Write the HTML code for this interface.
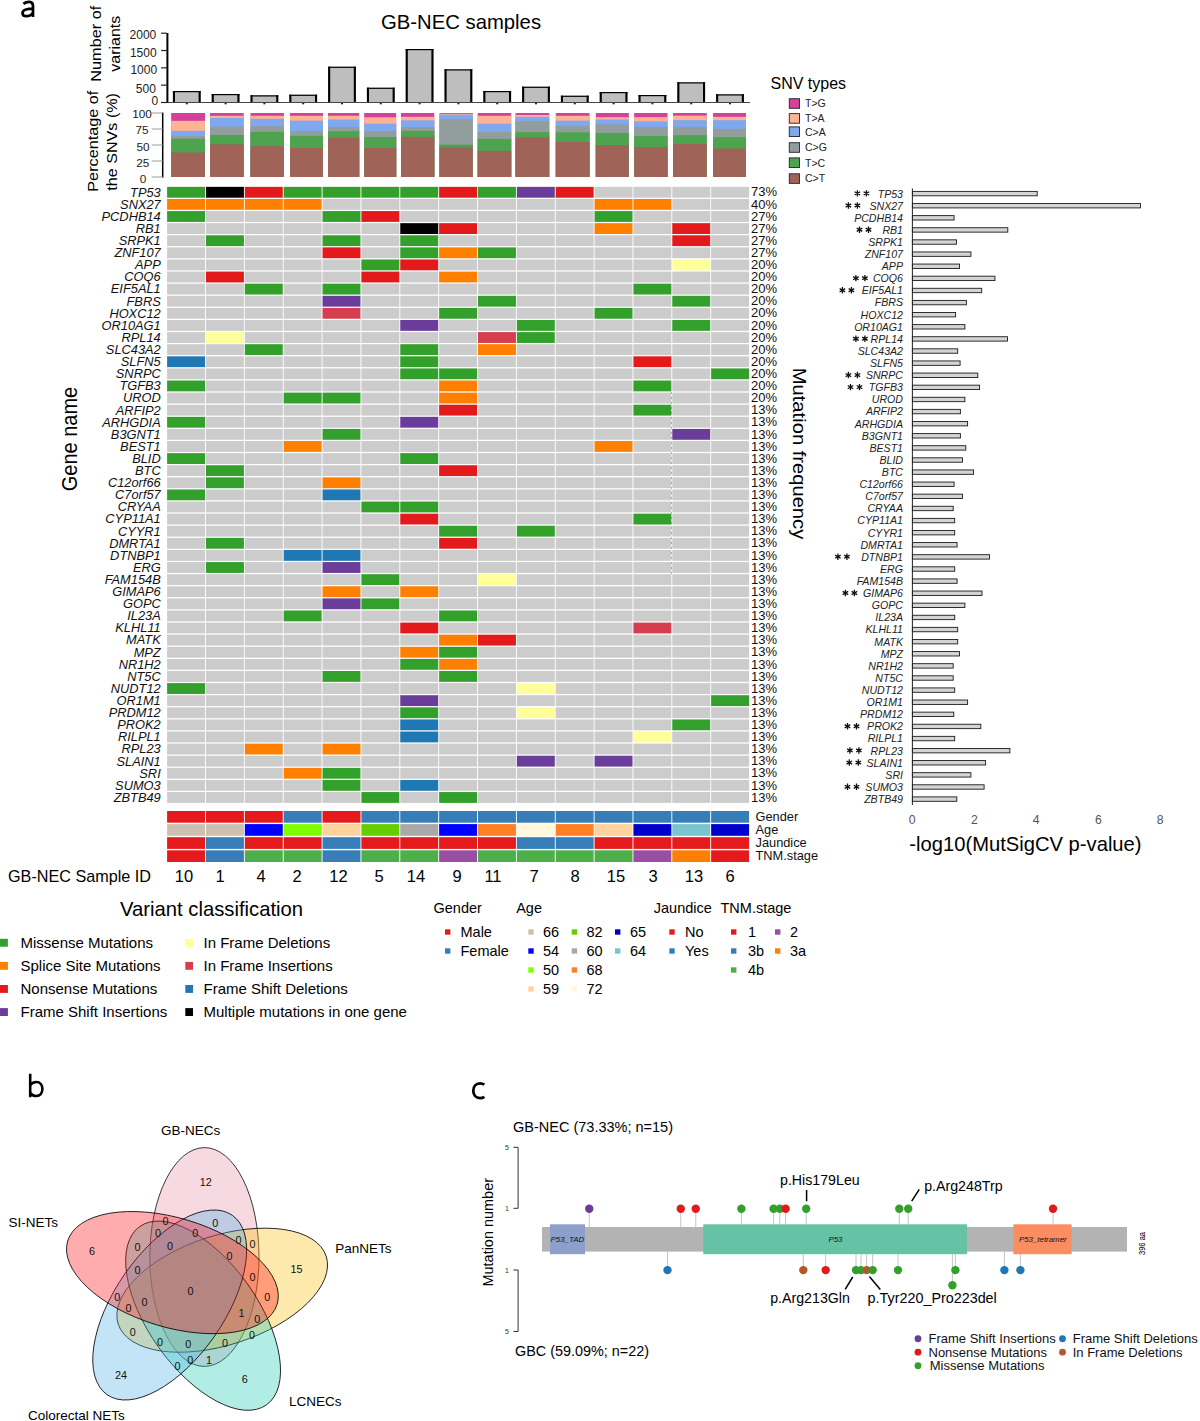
<!DOCTYPE html>
<html><head><meta charset="utf-8"><title>Figure</title>
<style>html,body{margin:0;padding:0;background:#fff;}svg{display:block;}text{font-family:"Liberation Sans", sans-serif;}</style>
</head><body>
<svg width="1200" height="1421" viewBox="0 0 1200 1421" font-family='"Liberation Sans", sans-serif'>
<rect width="1200" height="1421" fill="#fff"/>
<path d="M23.4 3.9C25.2 2.4 27.4 1.8 29.6 1.9C32.1 2.1 33.0 3.6 33.0 6.2L33.0 16.9M33.0 8.7C28.6 8.7 22.5 9.2 22.5 13.0C22.5 15.2 24.1 16.2 26.3 16.2C29.4 16.2 31.8 14.6 33.0 12.6" fill="none" stroke="#000" stroke-width="2.7"/>
<text x="381.00" y="29.00" font-size="20.3" fill="#000">GB-NEC samples</text>
<rect x="172.90" y="91.00" width="27.80" height="11.00" fill="#bebebe"/>
<rect x="172.90" y="91.00" width="2.10" height="11.00" fill="#000"/>
<rect x="198.60" y="91.00" width="2.10" height="11.00" fill="#000"/>
<rect x="172.90" y="91.00" width="27.80" height="1.20" fill="#000"/>
<rect x="185.80" y="102.50" width="2.00" height="1.80" fill="#222"/>
<rect x="211.70" y="94.00" width="27.80" height="8.00" fill="#bebebe"/>
<rect x="211.70" y="94.00" width="2.10" height="8.00" fill="#000"/>
<rect x="237.40" y="94.00" width="2.10" height="8.00" fill="#000"/>
<rect x="211.70" y="94.00" width="27.80" height="1.20" fill="#000"/>
<rect x="224.60" y="102.50" width="2.00" height="1.80" fill="#222"/>
<rect x="250.50" y="95.30" width="27.80" height="6.70" fill="#bebebe"/>
<rect x="250.50" y="95.30" width="2.10" height="6.70" fill="#000"/>
<rect x="276.20" y="95.30" width="2.10" height="6.70" fill="#000"/>
<rect x="250.50" y="95.30" width="27.80" height="1.20" fill="#000"/>
<rect x="263.40" y="102.50" width="2.00" height="1.80" fill="#222"/>
<rect x="289.30" y="94.70" width="27.80" height="7.30" fill="#bebebe"/>
<rect x="289.30" y="94.70" width="2.10" height="7.30" fill="#000"/>
<rect x="315.00" y="94.70" width="2.10" height="7.30" fill="#000"/>
<rect x="289.30" y="94.70" width="27.80" height="1.20" fill="#000"/>
<rect x="302.20" y="102.50" width="2.00" height="1.80" fill="#222"/>
<rect x="328.10" y="66.70" width="27.80" height="35.30" fill="#bebebe"/>
<rect x="328.10" y="66.70" width="2.10" height="35.30" fill="#000"/>
<rect x="353.80" y="66.70" width="2.10" height="35.30" fill="#000"/>
<rect x="328.10" y="66.70" width="27.80" height="1.20" fill="#000"/>
<rect x="341.00" y="102.50" width="2.00" height="1.80" fill="#222"/>
<rect x="366.90" y="87.70" width="27.80" height="14.30" fill="#bebebe"/>
<rect x="366.90" y="87.70" width="2.10" height="14.30" fill="#000"/>
<rect x="392.60" y="87.70" width="2.10" height="14.30" fill="#000"/>
<rect x="366.90" y="87.70" width="27.80" height="1.20" fill="#000"/>
<rect x="379.80" y="102.50" width="2.00" height="1.80" fill="#222"/>
<rect x="405.70" y="49.00" width="27.80" height="53.00" fill="#bebebe"/>
<rect x="405.70" y="49.00" width="2.10" height="53.00" fill="#000"/>
<rect x="431.40" y="49.00" width="2.10" height="53.00" fill="#000"/>
<rect x="405.70" y="49.00" width="27.80" height="1.20" fill="#000"/>
<rect x="418.60" y="102.50" width="2.00" height="1.80" fill="#222"/>
<rect x="444.50" y="69.30" width="27.80" height="32.70" fill="#bebebe"/>
<rect x="444.50" y="69.30" width="2.10" height="32.70" fill="#000"/>
<rect x="470.20" y="69.30" width="2.10" height="32.70" fill="#000"/>
<rect x="444.50" y="69.30" width="27.80" height="1.20" fill="#000"/>
<rect x="457.40" y="102.50" width="2.00" height="1.80" fill="#222"/>
<rect x="483.30" y="91.00" width="27.80" height="11.00" fill="#bebebe"/>
<rect x="483.30" y="91.00" width="2.10" height="11.00" fill="#000"/>
<rect x="509.00" y="91.00" width="2.10" height="11.00" fill="#000"/>
<rect x="483.30" y="91.00" width="27.80" height="1.20" fill="#000"/>
<rect x="496.20" y="102.50" width="2.00" height="1.80" fill="#222"/>
<rect x="522.10" y="86.70" width="27.80" height="15.30" fill="#bebebe"/>
<rect x="522.10" y="86.70" width="2.10" height="15.30" fill="#000"/>
<rect x="547.80" y="86.70" width="2.10" height="15.30" fill="#000"/>
<rect x="522.10" y="86.70" width="27.80" height="1.20" fill="#000"/>
<rect x="535.00" y="102.50" width="2.00" height="1.80" fill="#222"/>
<rect x="560.90" y="95.70" width="27.80" height="6.30" fill="#bebebe"/>
<rect x="560.90" y="95.70" width="2.10" height="6.30" fill="#000"/>
<rect x="586.60" y="95.70" width="2.10" height="6.30" fill="#000"/>
<rect x="560.90" y="95.70" width="27.80" height="1.20" fill="#000"/>
<rect x="573.80" y="102.50" width="2.00" height="1.80" fill="#222"/>
<rect x="599.70" y="92.00" width="27.80" height="10.00" fill="#bebebe"/>
<rect x="599.70" y="92.00" width="2.10" height="10.00" fill="#000"/>
<rect x="625.40" y="92.00" width="2.10" height="10.00" fill="#000"/>
<rect x="599.70" y="92.00" width="27.80" height="1.20" fill="#000"/>
<rect x="612.60" y="102.50" width="2.00" height="1.80" fill="#222"/>
<rect x="638.50" y="95.00" width="27.80" height="7.00" fill="#bebebe"/>
<rect x="638.50" y="95.00" width="2.10" height="7.00" fill="#000"/>
<rect x="664.20" y="95.00" width="2.10" height="7.00" fill="#000"/>
<rect x="638.50" y="95.00" width="27.80" height="1.20" fill="#000"/>
<rect x="651.40" y="102.50" width="2.00" height="1.80" fill="#222"/>
<rect x="677.30" y="82.30" width="27.80" height="19.70" fill="#bebebe"/>
<rect x="677.30" y="82.30" width="2.10" height="19.70" fill="#000"/>
<rect x="703.00" y="82.30" width="2.10" height="19.70" fill="#000"/>
<rect x="677.30" y="82.30" width="27.80" height="1.20" fill="#000"/>
<rect x="690.20" y="102.50" width="2.00" height="1.80" fill="#222"/>
<rect x="716.10" y="94.30" width="27.80" height="7.70" fill="#bebebe"/>
<rect x="716.10" y="94.30" width="2.10" height="7.70" fill="#000"/>
<rect x="741.80" y="94.30" width="2.10" height="7.70" fill="#000"/>
<rect x="716.10" y="94.30" width="27.80" height="1.20" fill="#000"/>
<rect x="729.00" y="102.50" width="2.00" height="1.80" fill="#222"/>
<line x1="161" y1="102.5" x2="750" y2="102.5" stroke="#444" stroke-width="1"/>
<line x1="167.4" y1="33" x2="167.4" y2="102.5" stroke="#000" stroke-width="2"/>
<line x1="161.1" y1="102.50" x2="166.7" y2="102.50" stroke="#222" stroke-width="1.2"/>
<text x="154.80" y="105.20" font-size="12" text-anchor="middle" fill="#222">0</text>
<line x1="161.1" y1="85.17" x2="166.7" y2="85.17" stroke="#222" stroke-width="1.2"/>
<text x="145.80" y="92.90" font-size="12" text-anchor="middle" fill="#222">500</text>
<line x1="161.1" y1="67.85" x2="166.7" y2="67.85" stroke="#222" stroke-width="1.2"/>
<text x="143.75" y="74.20" font-size="12" text-anchor="middle" fill="#222">1000</text>
<line x1="161.1" y1="50.52" x2="166.7" y2="50.52" stroke="#222" stroke-width="1.2"/>
<text x="143.30" y="56.90" font-size="12" text-anchor="middle" fill="#222">1500</text>
<line x1="161.1" y1="33.20" x2="166.7" y2="33.20" stroke="#222" stroke-width="1.2"/>
<text x="142.90" y="38.60" font-size="12" text-anchor="middle" fill="#222">2000</text>
<rect x="171.20" y="113.00" width="33.80" height="64.00" fill="#d6409a"/>
<rect x="171.20" y="120.83" width="33.80" height="56.17" fill="#feb394"/>
<rect x="171.20" y="130.83" width="33.80" height="46.17" fill="#80a8ef"/>
<rect x="171.20" y="136.17" width="33.80" height="40.83" fill="#929e9c"/>
<rect x="171.20" y="138.67" width="33.80" height="38.33" fill="#4ea34e"/>
<rect x="171.20" y="152.50" width="33.80" height="24.50" fill="#a06358"/>
<rect x="210.00" y="113.00" width="33.70" height="64.00" fill="#d6409a"/>
<rect x="210.00" y="115.83" width="33.70" height="61.17" fill="#feb394"/>
<rect x="210.00" y="117.83" width="33.70" height="59.17" fill="#80a8ef"/>
<rect x="210.00" y="126.67" width="33.70" height="50.33" fill="#929e9c"/>
<rect x="210.00" y="135.00" width="33.70" height="42.00" fill="#4ea34e"/>
<rect x="210.00" y="144.33" width="33.70" height="32.67" fill="#a06358"/>
<rect x="250.50" y="113.00" width="33.50" height="64.00" fill="#d6409a"/>
<rect x="250.50" y="115.83" width="33.50" height="61.17" fill="#feb394"/>
<rect x="250.50" y="118.83" width="33.50" height="58.17" fill="#80a8ef"/>
<rect x="250.50" y="126.17" width="33.50" height="50.83" fill="#929e9c"/>
<rect x="250.50" y="131.83" width="33.50" height="45.17" fill="#4ea34e"/>
<rect x="250.50" y="146.17" width="33.50" height="30.83" fill="#a06358"/>
<rect x="290.00" y="113.00" width="33.00" height="64.00" fill="#d6409a"/>
<rect x="290.00" y="115.83" width="33.00" height="61.17" fill="#feb394"/>
<rect x="290.00" y="120.67" width="33.00" height="56.33" fill="#80a8ef"/>
<rect x="290.00" y="131.17" width="33.00" height="45.83" fill="#929e9c"/>
<rect x="290.00" y="135.83" width="33.00" height="41.17" fill="#4ea34e"/>
<rect x="290.00" y="148.00" width="33.00" height="29.00" fill="#a06358"/>
<rect x="328.00" y="113.00" width="31.20" height="64.00" fill="#d6409a"/>
<rect x="328.00" y="115.83" width="31.20" height="61.17" fill="#feb394"/>
<rect x="328.00" y="119.50" width="31.20" height="57.50" fill="#80a8ef"/>
<rect x="328.00" y="127.00" width="31.20" height="50.00" fill="#929e9c"/>
<rect x="328.00" y="131.17" width="31.20" height="45.83" fill="#4ea34e"/>
<rect x="328.00" y="137.67" width="31.20" height="39.33" fill="#a06358"/>
<rect x="364.20" y="113.00" width="32.00" height="64.00" fill="#d6409a"/>
<rect x="364.20" y="117.33" width="32.00" height="59.67" fill="#feb394"/>
<rect x="364.20" y="123.67" width="32.00" height="53.33" fill="#80a8ef"/>
<rect x="364.20" y="131.17" width="32.00" height="45.83" fill="#929e9c"/>
<rect x="364.20" y="137.00" width="32.00" height="40.00" fill="#4ea34e"/>
<rect x="364.20" y="148.00" width="32.00" height="29.00" fill="#a06358"/>
<rect x="401.00" y="113.00" width="33.30" height="64.00" fill="#d6409a"/>
<rect x="401.00" y="116.83" width="33.30" height="60.17" fill="#feb394"/>
<rect x="401.00" y="120.33" width="33.30" height="56.67" fill="#80a8ef"/>
<rect x="401.00" y="127.17" width="33.30" height="49.83" fill="#929e9c"/>
<rect x="401.00" y="130.83" width="33.30" height="46.17" fill="#4ea34e"/>
<rect x="401.00" y="136.83" width="33.30" height="40.17" fill="#a06358"/>
<rect x="439.50" y="113.00" width="33.30" height="64.00" fill="#d6409a"/>
<rect x="439.50" y="113.83" width="33.30" height="63.17" fill="#feb394"/>
<rect x="439.50" y="114.67" width="33.30" height="62.33" fill="#80a8ef"/>
<rect x="439.50" y="119.17" width="33.30" height="57.83" fill="#929e9c"/>
<rect x="439.50" y="144.67" width="33.30" height="32.33" fill="#4ea34e"/>
<rect x="439.50" y="147.17" width="33.30" height="29.83" fill="#a06358"/>
<rect x="477.70" y="113.00" width="33.50" height="64.00" fill="#d6409a"/>
<rect x="477.70" y="115.83" width="33.50" height="61.17" fill="#feb394"/>
<rect x="477.70" y="123.67" width="33.50" height="53.33" fill="#80a8ef"/>
<rect x="477.70" y="132.00" width="33.50" height="45.00" fill="#929e9c"/>
<rect x="477.70" y="138.83" width="33.50" height="38.17" fill="#4ea34e"/>
<rect x="477.70" y="150.83" width="33.50" height="26.17" fill="#a06358"/>
<rect x="515.50" y="113.00" width="33.70" height="64.00" fill="#d6409a"/>
<rect x="515.50" y="115.00" width="33.70" height="62.00" fill="#feb394"/>
<rect x="515.50" y="116.83" width="33.70" height="60.17" fill="#80a8ef"/>
<rect x="515.50" y="121.33" width="33.70" height="55.67" fill="#929e9c"/>
<rect x="515.50" y="132.17" width="33.70" height="44.83" fill="#4ea34e"/>
<rect x="515.50" y="137.33" width="33.70" height="39.67" fill="#a06358"/>
<rect x="555.80" y="113.00" width="33.70" height="64.00" fill="#d6409a"/>
<rect x="555.80" y="115.83" width="33.70" height="61.17" fill="#feb394"/>
<rect x="555.80" y="120.67" width="33.70" height="56.33" fill="#80a8ef"/>
<rect x="555.80" y="126.17" width="33.70" height="50.83" fill="#929e9c"/>
<rect x="555.80" y="132.33" width="33.70" height="44.67" fill="#4ea34e"/>
<rect x="555.80" y="142.00" width="33.70" height="35.00" fill="#a06358"/>
<rect x="595.80" y="113.00" width="33.00" height="64.00" fill="#d6409a"/>
<rect x="595.80" y="117.17" width="33.00" height="59.83" fill="#feb394"/>
<rect x="595.80" y="119.50" width="33.00" height="57.50" fill="#80a8ef"/>
<rect x="595.80" y="124.50" width="33.00" height="52.50" fill="#929e9c"/>
<rect x="595.80" y="133.00" width="33.00" height="44.00" fill="#4ea34e"/>
<rect x="595.80" y="145.00" width="33.00" height="32.00" fill="#a06358"/>
<rect x="634.20" y="113.00" width="33.30" height="64.00" fill="#d6409a"/>
<rect x="634.20" y="117.17" width="33.30" height="59.83" fill="#feb394"/>
<rect x="634.20" y="121.33" width="33.30" height="55.67" fill="#80a8ef"/>
<rect x="634.20" y="127.00" width="33.30" height="50.00" fill="#929e9c"/>
<rect x="634.20" y="136.00" width="33.30" height="41.00" fill="#4ea34e"/>
<rect x="634.20" y="147.00" width="33.30" height="30.00" fill="#a06358"/>
<rect x="673.00" y="113.00" width="33.70" height="64.00" fill="#d6409a"/>
<rect x="673.00" y="115.67" width="33.70" height="61.33" fill="#feb394"/>
<rect x="673.00" y="120.17" width="33.70" height="56.83" fill="#80a8ef"/>
<rect x="673.00" y="126.83" width="33.70" height="50.17" fill="#929e9c"/>
<rect x="673.00" y="135.17" width="33.70" height="41.83" fill="#4ea34e"/>
<rect x="673.00" y="144.00" width="33.70" height="33.00" fill="#a06358"/>
<rect x="713.00" y="113.00" width="33.00" height="64.00" fill="#d6409a"/>
<rect x="713.00" y="116.83" width="33.00" height="60.17" fill="#feb394"/>
<rect x="713.00" y="120.17" width="33.00" height="56.83" fill="#80a8ef"/>
<rect x="713.00" y="128.83" width="33.00" height="48.17" fill="#929e9c"/>
<rect x="713.00" y="137.17" width="33.00" height="39.83" fill="#4ea34e"/>
<rect x="713.00" y="148.50" width="33.00" height="28.50" fill="#a06358"/>
<line x1="162.7" y1="112.5" x2="162.7" y2="177.6" stroke="#000" stroke-width="1.5"/>
<line x1="151.7" y1="113.00" x2="162.5" y2="113.00" stroke="#aaa" stroke-width="1.2"/>
<text x="142.10" y="118.15" font-size="11.8" text-anchor="middle" fill="#222">100</text>
<line x1="151.7" y1="129.00" x2="162.5" y2="129.00" stroke="#aaa" stroke-width="1.2"/>
<text x="142.00" y="133.80" font-size="11.8" text-anchor="middle" fill="#222">75</text>
<line x1="151.7" y1="145.00" x2="162.5" y2="145.00" stroke="#aaa" stroke-width="1.2"/>
<text x="143.10" y="150.65" font-size="11.8" text-anchor="middle" fill="#222">50</text>
<line x1="151.7" y1="161.00" x2="162.5" y2="161.00" stroke="#aaa" stroke-width="1.2"/>
<text x="142.70" y="166.90" font-size="11.8" text-anchor="middle" fill="#222">25</text>
<line x1="151.7" y1="177.00" x2="162.5" y2="177.00" stroke="#aaa" stroke-width="1.2"/>
<text x="143.10" y="182.90" font-size="11.8" text-anchor="middle" fill="#222">0</text>
<text transform="translate(100.80,43.75) rotate(-90)" x="0" y="0" font-size="14.5" text-anchor="middle" textLength="75.9" lengthAdjust="spacingAndGlyphs">Number of</text>
<text transform="translate(120.00,43.75) rotate(-90)" x="0" y="0" font-size="14.5" text-anchor="middle" textLength="55.9" lengthAdjust="spacingAndGlyphs">variants</text>
<text transform="translate(97.80,141.25) rotate(-90)" x="0" y="0" font-size="14.5" text-anchor="middle" textLength="100.9" lengthAdjust="spacingAndGlyphs">Percentage of</text>
<text transform="translate(117.20,141.90) rotate(-90)" x="0" y="0" font-size="14.5" text-anchor="middle" textLength="97.8" lengthAdjust="spacingAndGlyphs">the SNVs (%)</text>
<text x="770.50" y="89.00" font-size="16" fill="#000">SNV types</text>
<rect x="789.3" y="98.70" width="10.2" height="9.6" fill="#d6409a" stroke="#333" stroke-width="1"/>
<text x="805" y="106.70" font-size="10.5" fill="#222">T&gt;G</text>
<rect x="789.3" y="113.60" width="10.2" height="9.6" fill="#feb394" stroke="#333" stroke-width="1"/>
<text x="805" y="121.60" font-size="10.5" fill="#222">T&gt;A</text>
<rect x="789.3" y="126.90" width="10.2" height="9.6" fill="#80a8ef" stroke="#333" stroke-width="1"/>
<text x="805" y="135.60" font-size="10.5" fill="#222">C&gt;A</text>
<rect x="789.3" y="142.70" width="10.2" height="9.6" fill="#929e9c" stroke="#333" stroke-width="1"/>
<text x="805" y="150.80" font-size="10.5" fill="#222">C&gt;G</text>
<rect x="789.3" y="157.90" width="10.2" height="9.6" fill="#4ea34e" stroke="#333" stroke-width="1"/>
<text x="805" y="166.60" font-size="10.5" fill="#222">T&gt;C</text>
<rect x="789.3" y="173.80" width="10.2" height="9.6" fill="#a06358" stroke="#333" stroke-width="1"/>
<text x="805" y="181.50" font-size="10.5" fill="#222">C&gt;T</text>
<rect x="167.10" y="186.85" width="37.95" height="10.85" fill="#33a02c"/>
<rect x="205.96" y="186.85" width="37.95" height="10.85" fill="#000000"/>
<rect x="244.82" y="186.85" width="37.95" height="10.85" fill="#e31a1c"/>
<rect x="283.68" y="186.85" width="37.95" height="10.85" fill="#33a02c"/>
<rect x="322.54" y="186.85" width="37.95" height="10.85" fill="#33a02c"/>
<rect x="361.40" y="186.85" width="37.95" height="10.85" fill="#33a02c"/>
<rect x="400.26" y="186.85" width="37.95" height="10.85" fill="#33a02c"/>
<rect x="439.12" y="186.85" width="37.95" height="10.85" fill="#e31a1c"/>
<rect x="477.98" y="186.85" width="37.95" height="10.85" fill="#33a02c"/>
<rect x="516.84" y="186.85" width="37.95" height="10.85" fill="#6a3d9a"/>
<rect x="555.70" y="186.85" width="37.95" height="10.85" fill="#e31a1c"/>
<rect x="594.56" y="186.85" width="37.95" height="10.85" fill="#cccccc"/>
<rect x="633.42" y="186.85" width="37.95" height="10.85" fill="#cccccc"/>
<rect x="672.28" y="186.85" width="37.95" height="10.85" fill="#cccccc"/>
<rect x="711.14" y="186.85" width="37.95" height="10.85" fill="#cccccc"/>
<text x="751.00" y="196.45" font-size="13" fill="#111">73%</text>
<rect x="167.10" y="198.95" width="37.95" height="10.85" fill="#ff7f00"/>
<rect x="205.96" y="198.95" width="37.95" height="10.85" fill="#ff7f00"/>
<rect x="244.82" y="198.95" width="37.95" height="10.85" fill="#ff7f00"/>
<rect x="283.68" y="198.95" width="37.95" height="10.85" fill="#ff7f00"/>
<rect x="322.54" y="198.95" width="37.95" height="10.85" fill="#cccccc"/>
<rect x="361.40" y="198.95" width="37.95" height="10.85" fill="#cccccc"/>
<rect x="400.26" y="198.95" width="37.95" height="10.85" fill="#cccccc"/>
<rect x="439.12" y="198.95" width="37.95" height="10.85" fill="#cccccc"/>
<rect x="477.98" y="198.95" width="37.95" height="10.85" fill="#cccccc"/>
<rect x="516.84" y="198.95" width="37.95" height="10.85" fill="#cccccc"/>
<rect x="555.70" y="198.95" width="37.95" height="10.85" fill="#cccccc"/>
<rect x="594.56" y="198.95" width="37.95" height="10.85" fill="#ff7f00"/>
<rect x="633.42" y="198.95" width="37.95" height="10.85" fill="#ff7f00"/>
<rect x="672.28" y="198.95" width="37.95" height="10.85" fill="#cccccc"/>
<rect x="711.14" y="198.95" width="37.95" height="10.85" fill="#cccccc"/>
<text x="751.00" y="208.55" font-size="13" fill="#111">40%</text>
<rect x="167.10" y="211.06" width="37.95" height="10.85" fill="#33a02c"/>
<rect x="205.96" y="211.06" width="37.95" height="10.85" fill="#cccccc"/>
<rect x="244.82" y="211.06" width="37.95" height="10.85" fill="#cccccc"/>
<rect x="283.68" y="211.06" width="37.95" height="10.85" fill="#cccccc"/>
<rect x="322.54" y="211.06" width="37.95" height="10.85" fill="#33a02c"/>
<rect x="361.40" y="211.06" width="37.95" height="10.85" fill="#e31a1c"/>
<rect x="400.26" y="211.06" width="37.95" height="10.85" fill="#cccccc"/>
<rect x="439.12" y="211.06" width="37.95" height="10.85" fill="#cccccc"/>
<rect x="477.98" y="211.06" width="37.95" height="10.85" fill="#cccccc"/>
<rect x="516.84" y="211.06" width="37.95" height="10.85" fill="#cccccc"/>
<rect x="555.70" y="211.06" width="37.95" height="10.85" fill="#cccccc"/>
<rect x="594.56" y="211.06" width="37.95" height="10.85" fill="#33a02c"/>
<rect x="633.42" y="211.06" width="37.95" height="10.85" fill="#cccccc"/>
<rect x="672.28" y="211.06" width="37.95" height="10.85" fill="#cccccc"/>
<rect x="711.14" y="211.06" width="37.95" height="10.85" fill="#cccccc"/>
<text x="751.00" y="220.66" font-size="13" fill="#111">27%</text>
<rect x="167.10" y="223.16" width="37.95" height="10.85" fill="#cccccc"/>
<rect x="205.96" y="223.16" width="37.95" height="10.85" fill="#cccccc"/>
<rect x="244.82" y="223.16" width="37.95" height="10.85" fill="#cccccc"/>
<rect x="283.68" y="223.16" width="37.95" height="10.85" fill="#cccccc"/>
<rect x="322.54" y="223.16" width="37.95" height="10.85" fill="#cccccc"/>
<rect x="361.40" y="223.16" width="37.95" height="10.85" fill="#cccccc"/>
<rect x="400.26" y="223.16" width="37.95" height="10.85" fill="#000000"/>
<rect x="439.12" y="223.16" width="37.95" height="10.85" fill="#e31a1c"/>
<rect x="477.98" y="223.16" width="37.95" height="10.85" fill="#cccccc"/>
<rect x="516.84" y="223.16" width="37.95" height="10.85" fill="#cccccc"/>
<rect x="555.70" y="223.16" width="37.95" height="10.85" fill="#cccccc"/>
<rect x="594.56" y="223.16" width="37.95" height="10.85" fill="#ff7f00"/>
<rect x="633.42" y="223.16" width="37.95" height="10.85" fill="#cccccc"/>
<rect x="672.28" y="223.16" width="37.95" height="10.85" fill="#e31a1c"/>
<rect x="711.14" y="223.16" width="37.95" height="10.85" fill="#cccccc"/>
<text x="751.00" y="232.76" font-size="13" fill="#111">27%</text>
<rect x="167.10" y="235.27" width="37.95" height="10.85" fill="#cccccc"/>
<rect x="205.96" y="235.27" width="37.95" height="10.85" fill="#33a02c"/>
<rect x="244.82" y="235.27" width="37.95" height="10.85" fill="#cccccc"/>
<rect x="283.68" y="235.27" width="37.95" height="10.85" fill="#cccccc"/>
<rect x="322.54" y="235.27" width="37.95" height="10.85" fill="#33a02c"/>
<rect x="361.40" y="235.27" width="37.95" height="10.85" fill="#cccccc"/>
<rect x="400.26" y="235.27" width="37.95" height="10.85" fill="#33a02c"/>
<rect x="439.12" y="235.27" width="37.95" height="10.85" fill="#cccccc"/>
<rect x="477.98" y="235.27" width="37.95" height="10.85" fill="#cccccc"/>
<rect x="516.84" y="235.27" width="37.95" height="10.85" fill="#cccccc"/>
<rect x="555.70" y="235.27" width="37.95" height="10.85" fill="#cccccc"/>
<rect x="594.56" y="235.27" width="37.95" height="10.85" fill="#cccccc"/>
<rect x="633.42" y="235.27" width="37.95" height="10.85" fill="#cccccc"/>
<rect x="672.28" y="235.27" width="37.95" height="10.85" fill="#e31a1c"/>
<rect x="711.14" y="235.27" width="37.95" height="10.85" fill="#cccccc"/>
<text x="751.00" y="244.87" font-size="13" fill="#111">27%</text>
<rect x="167.10" y="247.37" width="37.95" height="10.85" fill="#cccccc"/>
<rect x="205.96" y="247.37" width="37.95" height="10.85" fill="#cccccc"/>
<rect x="244.82" y="247.37" width="37.95" height="10.85" fill="#cccccc"/>
<rect x="283.68" y="247.37" width="37.95" height="10.85" fill="#cccccc"/>
<rect x="322.54" y="247.37" width="37.95" height="10.85" fill="#e31a1c"/>
<rect x="361.40" y="247.37" width="37.95" height="10.85" fill="#cccccc"/>
<rect x="400.26" y="247.37" width="37.95" height="10.85" fill="#33a02c"/>
<rect x="439.12" y="247.37" width="37.95" height="10.85" fill="#ff7f00"/>
<rect x="477.98" y="247.37" width="37.95" height="10.85" fill="#33a02c"/>
<rect x="516.84" y="247.37" width="37.95" height="10.85" fill="#cccccc"/>
<rect x="555.70" y="247.37" width="37.95" height="10.85" fill="#cccccc"/>
<rect x="594.56" y="247.37" width="37.95" height="10.85" fill="#cccccc"/>
<rect x="633.42" y="247.37" width="37.95" height="10.85" fill="#cccccc"/>
<rect x="672.28" y="247.37" width="37.95" height="10.85" fill="#cccccc"/>
<rect x="711.14" y="247.37" width="37.95" height="10.85" fill="#cccccc"/>
<text x="751.00" y="256.97" font-size="13" fill="#111">27%</text>
<rect x="167.10" y="259.47" width="37.95" height="10.85" fill="#cccccc"/>
<rect x="205.96" y="259.47" width="37.95" height="10.85" fill="#cccccc"/>
<rect x="244.82" y="259.47" width="37.95" height="10.85" fill="#cccccc"/>
<rect x="283.68" y="259.47" width="37.95" height="10.85" fill="#cccccc"/>
<rect x="322.54" y="259.47" width="37.95" height="10.85" fill="#cccccc"/>
<rect x="361.40" y="259.47" width="37.95" height="10.85" fill="#33a02c"/>
<rect x="400.26" y="259.47" width="37.95" height="10.85" fill="#e31a1c"/>
<rect x="439.12" y="259.47" width="37.95" height="10.85" fill="#cccccc"/>
<rect x="477.98" y="259.47" width="37.95" height="10.85" fill="#cccccc"/>
<rect x="516.84" y="259.47" width="37.95" height="10.85" fill="#cccccc"/>
<rect x="555.70" y="259.47" width="37.95" height="10.85" fill="#cccccc"/>
<rect x="594.56" y="259.47" width="37.95" height="10.85" fill="#cccccc"/>
<rect x="633.42" y="259.47" width="37.95" height="10.85" fill="#cccccc"/>
<rect x="672.28" y="259.47" width="37.95" height="10.85" fill="#ffff99"/>
<rect x="711.14" y="259.47" width="37.95" height="10.85" fill="#cccccc"/>
<text x="751.00" y="269.07" font-size="13" fill="#111">20%</text>
<rect x="167.10" y="271.58" width="37.95" height="10.85" fill="#cccccc"/>
<rect x="205.96" y="271.58" width="37.95" height="10.85" fill="#e31a1c"/>
<rect x="244.82" y="271.58" width="37.95" height="10.85" fill="#cccccc"/>
<rect x="283.68" y="271.58" width="37.95" height="10.85" fill="#cccccc"/>
<rect x="322.54" y="271.58" width="37.95" height="10.85" fill="#cccccc"/>
<rect x="361.40" y="271.58" width="37.95" height="10.85" fill="#e31a1c"/>
<rect x="400.26" y="271.58" width="37.95" height="10.85" fill="#cccccc"/>
<rect x="439.12" y="271.58" width="37.95" height="10.85" fill="#ff7f00"/>
<rect x="477.98" y="271.58" width="37.95" height="10.85" fill="#cccccc"/>
<rect x="516.84" y="271.58" width="37.95" height="10.85" fill="#cccccc"/>
<rect x="555.70" y="271.58" width="37.95" height="10.85" fill="#cccccc"/>
<rect x="594.56" y="271.58" width="37.95" height="10.85" fill="#cccccc"/>
<rect x="633.42" y="271.58" width="37.95" height="10.85" fill="#cccccc"/>
<rect x="672.28" y="271.58" width="37.95" height="10.85" fill="#cccccc"/>
<rect x="711.14" y="271.58" width="37.95" height="10.85" fill="#cccccc"/>
<text x="751.00" y="281.18" font-size="13" fill="#111">20%</text>
<rect x="167.10" y="283.68" width="37.95" height="10.85" fill="#cccccc"/>
<rect x="205.96" y="283.68" width="37.95" height="10.85" fill="#cccccc"/>
<rect x="244.82" y="283.68" width="37.95" height="10.85" fill="#33a02c"/>
<rect x="283.68" y="283.68" width="37.95" height="10.85" fill="#cccccc"/>
<rect x="322.54" y="283.68" width="37.95" height="10.85" fill="#33a02c"/>
<rect x="361.40" y="283.68" width="37.95" height="10.85" fill="#cccccc"/>
<rect x="400.26" y="283.68" width="37.95" height="10.85" fill="#cccccc"/>
<rect x="439.12" y="283.68" width="37.95" height="10.85" fill="#cccccc"/>
<rect x="477.98" y="283.68" width="37.95" height="10.85" fill="#cccccc"/>
<rect x="516.84" y="283.68" width="37.95" height="10.85" fill="#cccccc"/>
<rect x="555.70" y="283.68" width="37.95" height="10.85" fill="#cccccc"/>
<rect x="594.56" y="283.68" width="37.95" height="10.85" fill="#cccccc"/>
<rect x="633.42" y="283.68" width="37.95" height="10.85" fill="#33a02c"/>
<rect x="672.28" y="283.68" width="37.95" height="10.85" fill="#cccccc"/>
<rect x="711.14" y="283.68" width="37.95" height="10.85" fill="#cccccc"/>
<text x="751.00" y="293.28" font-size="13" fill="#111">20%</text>
<rect x="167.10" y="295.79" width="37.95" height="10.85" fill="#cccccc"/>
<rect x="205.96" y="295.79" width="37.95" height="10.85" fill="#cccccc"/>
<rect x="244.82" y="295.79" width="37.95" height="10.85" fill="#cccccc"/>
<rect x="283.68" y="295.79" width="37.95" height="10.85" fill="#cccccc"/>
<rect x="322.54" y="295.79" width="37.95" height="10.85" fill="#6a3d9a"/>
<rect x="361.40" y="295.79" width="37.95" height="10.85" fill="#cccccc"/>
<rect x="400.26" y="295.79" width="37.95" height="10.85" fill="#cccccc"/>
<rect x="439.12" y="295.79" width="37.95" height="10.85" fill="#cccccc"/>
<rect x="477.98" y="295.79" width="37.95" height="10.85" fill="#33a02c"/>
<rect x="516.84" y="295.79" width="37.95" height="10.85" fill="#cccccc"/>
<rect x="555.70" y="295.79" width="37.95" height="10.85" fill="#cccccc"/>
<rect x="594.56" y="295.79" width="37.95" height="10.85" fill="#cccccc"/>
<rect x="633.42" y="295.79" width="37.95" height="10.85" fill="#cccccc"/>
<rect x="672.28" y="295.79" width="37.95" height="10.85" fill="#33a02c"/>
<rect x="711.14" y="295.79" width="37.95" height="10.85" fill="#cccccc"/>
<text x="751.00" y="305.39" font-size="13" fill="#111">20%</text>
<rect x="167.10" y="307.89" width="37.95" height="10.85" fill="#cccccc"/>
<rect x="205.96" y="307.89" width="37.95" height="10.85" fill="#cccccc"/>
<rect x="244.82" y="307.89" width="37.95" height="10.85" fill="#cccccc"/>
<rect x="283.68" y="307.89" width="37.95" height="10.85" fill="#cccccc"/>
<rect x="322.54" y="307.89" width="37.95" height="10.85" fill="#d53e4f"/>
<rect x="361.40" y="307.89" width="37.95" height="10.85" fill="#cccccc"/>
<rect x="400.26" y="307.89" width="37.95" height="10.85" fill="#cccccc"/>
<rect x="439.12" y="307.89" width="37.95" height="10.85" fill="#33a02c"/>
<rect x="477.98" y="307.89" width="37.95" height="10.85" fill="#cccccc"/>
<rect x="516.84" y="307.89" width="37.95" height="10.85" fill="#cccccc"/>
<rect x="555.70" y="307.89" width="37.95" height="10.85" fill="#cccccc"/>
<rect x="594.56" y="307.89" width="37.95" height="10.85" fill="#33a02c"/>
<rect x="633.42" y="307.89" width="37.95" height="10.85" fill="#cccccc"/>
<rect x="672.28" y="307.89" width="37.95" height="10.85" fill="#cccccc"/>
<rect x="711.14" y="307.89" width="37.95" height="10.85" fill="#cccccc"/>
<text x="751.00" y="317.49" font-size="13" fill="#111">20%</text>
<rect x="167.10" y="319.99" width="37.95" height="10.85" fill="#cccccc"/>
<rect x="205.96" y="319.99" width="37.95" height="10.85" fill="#cccccc"/>
<rect x="244.82" y="319.99" width="37.95" height="10.85" fill="#cccccc"/>
<rect x="283.68" y="319.99" width="37.95" height="10.85" fill="#cccccc"/>
<rect x="322.54" y="319.99" width="37.95" height="10.85" fill="#cccccc"/>
<rect x="361.40" y="319.99" width="37.95" height="10.85" fill="#cccccc"/>
<rect x="400.26" y="319.99" width="37.95" height="10.85" fill="#6a3d9a"/>
<rect x="439.12" y="319.99" width="37.95" height="10.85" fill="#cccccc"/>
<rect x="477.98" y="319.99" width="37.95" height="10.85" fill="#cccccc"/>
<rect x="516.84" y="319.99" width="37.95" height="10.85" fill="#33a02c"/>
<rect x="555.70" y="319.99" width="37.95" height="10.85" fill="#cccccc"/>
<rect x="594.56" y="319.99" width="37.95" height="10.85" fill="#cccccc"/>
<rect x="633.42" y="319.99" width="37.95" height="10.85" fill="#cccccc"/>
<rect x="672.28" y="319.99" width="37.95" height="10.85" fill="#33a02c"/>
<rect x="711.14" y="319.99" width="37.95" height="10.85" fill="#cccccc"/>
<text x="751.00" y="329.59" font-size="13" fill="#111">20%</text>
<rect x="167.10" y="332.10" width="37.95" height="10.85" fill="#cccccc"/>
<rect x="205.96" y="332.10" width="37.95" height="10.85" fill="#ffff99"/>
<rect x="244.82" y="332.10" width="37.95" height="10.85" fill="#cccccc"/>
<rect x="283.68" y="332.10" width="37.95" height="10.85" fill="#cccccc"/>
<rect x="322.54" y="332.10" width="37.95" height="10.85" fill="#cccccc"/>
<rect x="361.40" y="332.10" width="37.95" height="10.85" fill="#cccccc"/>
<rect x="400.26" y="332.10" width="37.95" height="10.85" fill="#cccccc"/>
<rect x="439.12" y="332.10" width="37.95" height="10.85" fill="#cccccc"/>
<rect x="477.98" y="332.10" width="37.95" height="10.85" fill="#d53e4f"/>
<rect x="516.84" y="332.10" width="37.95" height="10.85" fill="#33a02c"/>
<rect x="555.70" y="332.10" width="37.95" height="10.85" fill="#cccccc"/>
<rect x="594.56" y="332.10" width="37.95" height="10.85" fill="#cccccc"/>
<rect x="633.42" y="332.10" width="37.95" height="10.85" fill="#cccccc"/>
<rect x="672.28" y="332.10" width="37.95" height="10.85" fill="#cccccc"/>
<rect x="711.14" y="332.10" width="37.95" height="10.85" fill="#cccccc"/>
<text x="751.00" y="341.70" font-size="13" fill="#111">20%</text>
<rect x="167.10" y="344.20" width="37.95" height="10.85" fill="#cccccc"/>
<rect x="205.96" y="344.20" width="37.95" height="10.85" fill="#cccccc"/>
<rect x="244.82" y="344.20" width="37.95" height="10.85" fill="#33a02c"/>
<rect x="283.68" y="344.20" width="37.95" height="10.85" fill="#cccccc"/>
<rect x="322.54" y="344.20" width="37.95" height="10.85" fill="#cccccc"/>
<rect x="361.40" y="344.20" width="37.95" height="10.85" fill="#cccccc"/>
<rect x="400.26" y="344.20" width="37.95" height="10.85" fill="#33a02c"/>
<rect x="439.12" y="344.20" width="37.95" height="10.85" fill="#cccccc"/>
<rect x="477.98" y="344.20" width="37.95" height="10.85" fill="#ff7f00"/>
<rect x="516.84" y="344.20" width="37.95" height="10.85" fill="#cccccc"/>
<rect x="555.70" y="344.20" width="37.95" height="10.85" fill="#cccccc"/>
<rect x="594.56" y="344.20" width="37.95" height="10.85" fill="#cccccc"/>
<rect x="633.42" y="344.20" width="37.95" height="10.85" fill="#cccccc"/>
<rect x="672.28" y="344.20" width="37.95" height="10.85" fill="#cccccc"/>
<rect x="711.14" y="344.20" width="37.95" height="10.85" fill="#cccccc"/>
<text x="751.00" y="353.80" font-size="13" fill="#111">20%</text>
<rect x="167.10" y="356.31" width="37.95" height="10.85" fill="#1f78b4"/>
<rect x="205.96" y="356.31" width="37.95" height="10.85" fill="#cccccc"/>
<rect x="244.82" y="356.31" width="37.95" height="10.85" fill="#cccccc"/>
<rect x="283.68" y="356.31" width="37.95" height="10.85" fill="#cccccc"/>
<rect x="322.54" y="356.31" width="37.95" height="10.85" fill="#cccccc"/>
<rect x="361.40" y="356.31" width="37.95" height="10.85" fill="#cccccc"/>
<rect x="400.26" y="356.31" width="37.95" height="10.85" fill="#33a02c"/>
<rect x="439.12" y="356.31" width="37.95" height="10.85" fill="#cccccc"/>
<rect x="477.98" y="356.31" width="37.95" height="10.85" fill="#cccccc"/>
<rect x="516.84" y="356.31" width="37.95" height="10.85" fill="#cccccc"/>
<rect x="555.70" y="356.31" width="37.95" height="10.85" fill="#cccccc"/>
<rect x="594.56" y="356.31" width="37.95" height="10.85" fill="#cccccc"/>
<rect x="633.42" y="356.31" width="37.95" height="10.85" fill="#e31a1c"/>
<rect x="672.28" y="356.31" width="37.95" height="10.85" fill="#cccccc"/>
<rect x="711.14" y="356.31" width="37.95" height="10.85" fill="#cccccc"/>
<text x="751.00" y="365.91" font-size="13" fill="#111">20%</text>
<rect x="167.10" y="368.41" width="37.95" height="10.85" fill="#cccccc"/>
<rect x="205.96" y="368.41" width="37.95" height="10.85" fill="#cccccc"/>
<rect x="244.82" y="368.41" width="37.95" height="10.85" fill="#cccccc"/>
<rect x="283.68" y="368.41" width="37.95" height="10.85" fill="#cccccc"/>
<rect x="322.54" y="368.41" width="37.95" height="10.85" fill="#cccccc"/>
<rect x="361.40" y="368.41" width="37.95" height="10.85" fill="#cccccc"/>
<rect x="400.26" y="368.41" width="37.95" height="10.85" fill="#33a02c"/>
<rect x="439.12" y="368.41" width="37.95" height="10.85" fill="#33a02c"/>
<rect x="477.98" y="368.41" width="37.95" height="10.85" fill="#cccccc"/>
<rect x="516.84" y="368.41" width="37.95" height="10.85" fill="#cccccc"/>
<rect x="555.70" y="368.41" width="37.95" height="10.85" fill="#cccccc"/>
<rect x="594.56" y="368.41" width="37.95" height="10.85" fill="#cccccc"/>
<rect x="633.42" y="368.41" width="37.95" height="10.85" fill="#cccccc"/>
<rect x="672.28" y="368.41" width="37.95" height="10.85" fill="#cccccc"/>
<rect x="711.14" y="368.41" width="37.95" height="10.85" fill="#33a02c"/>
<text x="751.00" y="378.01" font-size="13" fill="#111">20%</text>
<rect x="167.10" y="380.51" width="37.95" height="10.85" fill="#33a02c"/>
<rect x="205.96" y="380.51" width="37.95" height="10.85" fill="#cccccc"/>
<rect x="244.82" y="380.51" width="37.95" height="10.85" fill="#cccccc"/>
<rect x="283.68" y="380.51" width="37.95" height="10.85" fill="#cccccc"/>
<rect x="322.54" y="380.51" width="37.95" height="10.85" fill="#cccccc"/>
<rect x="361.40" y="380.51" width="37.95" height="10.85" fill="#cccccc"/>
<rect x="400.26" y="380.51" width="37.95" height="10.85" fill="#cccccc"/>
<rect x="439.12" y="380.51" width="37.95" height="10.85" fill="#ff7f00"/>
<rect x="477.98" y="380.51" width="37.95" height="10.85" fill="#cccccc"/>
<rect x="516.84" y="380.51" width="37.95" height="10.85" fill="#cccccc"/>
<rect x="555.70" y="380.51" width="37.95" height="10.85" fill="#cccccc"/>
<rect x="594.56" y="380.51" width="37.95" height="10.85" fill="#cccccc"/>
<rect x="633.42" y="380.51" width="37.95" height="10.85" fill="#33a02c"/>
<rect x="672.28" y="380.51" width="37.95" height="10.85" fill="#cccccc"/>
<rect x="711.14" y="380.51" width="37.95" height="10.85" fill="#cccccc"/>
<text x="751.00" y="390.11" font-size="13" fill="#111">20%</text>
<rect x="167.10" y="392.62" width="37.95" height="10.85" fill="#cccccc"/>
<rect x="205.96" y="392.62" width="37.95" height="10.85" fill="#cccccc"/>
<rect x="244.82" y="392.62" width="37.95" height="10.85" fill="#cccccc"/>
<rect x="283.68" y="392.62" width="37.95" height="10.85" fill="#33a02c"/>
<rect x="322.54" y="392.62" width="37.95" height="10.85" fill="#33a02c"/>
<rect x="361.40" y="392.62" width="37.95" height="10.85" fill="#cccccc"/>
<rect x="400.26" y="392.62" width="37.95" height="10.85" fill="#cccccc"/>
<rect x="439.12" y="392.62" width="37.95" height="10.85" fill="#ff7f00"/>
<rect x="477.98" y="392.62" width="37.95" height="10.85" fill="#cccccc"/>
<rect x="516.84" y="392.62" width="37.95" height="10.85" fill="#cccccc"/>
<rect x="555.70" y="392.62" width="37.95" height="10.85" fill="#cccccc"/>
<rect x="594.56" y="392.62" width="37.95" height="10.85" fill="#cccccc"/>
<rect x="633.42" y="392.62" width="37.95" height="10.85" fill="#cccccc"/>
<rect x="672.28" y="392.62" width="37.95" height="10.85" fill="#cccccc"/>
<rect x="711.14" y="392.62" width="37.95" height="10.85" fill="#cccccc"/>
<text x="751.00" y="402.22" font-size="13" fill="#111">20%</text>
<rect x="167.10" y="404.72" width="37.95" height="10.85" fill="#cccccc"/>
<rect x="205.96" y="404.72" width="37.95" height="10.85" fill="#cccccc"/>
<rect x="244.82" y="404.72" width="37.95" height="10.85" fill="#cccccc"/>
<rect x="283.68" y="404.72" width="37.95" height="10.85" fill="#cccccc"/>
<rect x="322.54" y="404.72" width="37.95" height="10.85" fill="#cccccc"/>
<rect x="361.40" y="404.72" width="37.95" height="10.85" fill="#cccccc"/>
<rect x="400.26" y="404.72" width="37.95" height="10.85" fill="#cccccc"/>
<rect x="439.12" y="404.72" width="37.95" height="10.85" fill="#e31a1c"/>
<rect x="477.98" y="404.72" width="37.95" height="10.85" fill="#cccccc"/>
<rect x="516.84" y="404.72" width="37.95" height="10.85" fill="#cccccc"/>
<rect x="555.70" y="404.72" width="37.95" height="10.85" fill="#cccccc"/>
<rect x="594.56" y="404.72" width="37.95" height="10.85" fill="#cccccc"/>
<rect x="633.42" y="404.72" width="37.95" height="10.85" fill="#33a02c"/>
<rect x="672.28" y="404.72" width="37.95" height="10.85" fill="#cccccc"/>
<rect x="711.14" y="404.72" width="37.95" height="10.85" fill="#cccccc"/>
<text x="751.00" y="414.32" font-size="13" fill="#111">13%</text>
<rect x="167.10" y="416.83" width="37.95" height="10.85" fill="#33a02c"/>
<rect x="205.96" y="416.83" width="37.95" height="10.85" fill="#cccccc"/>
<rect x="244.82" y="416.83" width="37.95" height="10.85" fill="#cccccc"/>
<rect x="283.68" y="416.83" width="37.95" height="10.85" fill="#cccccc"/>
<rect x="322.54" y="416.83" width="37.95" height="10.85" fill="#cccccc"/>
<rect x="361.40" y="416.83" width="37.95" height="10.85" fill="#cccccc"/>
<rect x="400.26" y="416.83" width="37.95" height="10.85" fill="#6a3d9a"/>
<rect x="439.12" y="416.83" width="37.95" height="10.85" fill="#cccccc"/>
<rect x="477.98" y="416.83" width="37.95" height="10.85" fill="#cccccc"/>
<rect x="516.84" y="416.83" width="37.95" height="10.85" fill="#cccccc"/>
<rect x="555.70" y="416.83" width="37.95" height="10.85" fill="#cccccc"/>
<rect x="594.56" y="416.83" width="37.95" height="10.85" fill="#cccccc"/>
<rect x="633.42" y="416.83" width="37.95" height="10.85" fill="#cccccc"/>
<rect x="672.28" y="416.83" width="37.95" height="10.85" fill="#cccccc"/>
<rect x="711.14" y="416.83" width="37.95" height="10.85" fill="#cccccc"/>
<text x="751.00" y="426.43" font-size="13" fill="#111">13%</text>
<rect x="167.10" y="428.93" width="37.95" height="10.85" fill="#cccccc"/>
<rect x="205.96" y="428.93" width="37.95" height="10.85" fill="#cccccc"/>
<rect x="244.82" y="428.93" width="37.95" height="10.85" fill="#cccccc"/>
<rect x="283.68" y="428.93" width="37.95" height="10.85" fill="#cccccc"/>
<rect x="322.54" y="428.93" width="37.95" height="10.85" fill="#33a02c"/>
<rect x="361.40" y="428.93" width="37.95" height="10.85" fill="#cccccc"/>
<rect x="400.26" y="428.93" width="37.95" height="10.85" fill="#cccccc"/>
<rect x="439.12" y="428.93" width="37.95" height="10.85" fill="#cccccc"/>
<rect x="477.98" y="428.93" width="37.95" height="10.85" fill="#cccccc"/>
<rect x="516.84" y="428.93" width="37.95" height="10.85" fill="#cccccc"/>
<rect x="555.70" y="428.93" width="37.95" height="10.85" fill="#cccccc"/>
<rect x="594.56" y="428.93" width="37.95" height="10.85" fill="#cccccc"/>
<rect x="633.42" y="428.93" width="37.95" height="10.85" fill="#cccccc"/>
<rect x="672.28" y="428.93" width="37.95" height="10.85" fill="#6a3d9a"/>
<rect x="711.14" y="428.93" width="37.95" height="10.85" fill="#cccccc"/>
<text x="751.00" y="438.53" font-size="13" fill="#111">13%</text>
<rect x="167.10" y="441.03" width="37.95" height="10.85" fill="#cccccc"/>
<rect x="205.96" y="441.03" width="37.95" height="10.85" fill="#cccccc"/>
<rect x="244.82" y="441.03" width="37.95" height="10.85" fill="#cccccc"/>
<rect x="283.68" y="441.03" width="37.95" height="10.85" fill="#ff7f00"/>
<rect x="322.54" y="441.03" width="37.95" height="10.85" fill="#cccccc"/>
<rect x="361.40" y="441.03" width="37.95" height="10.85" fill="#cccccc"/>
<rect x="400.26" y="441.03" width="37.95" height="10.85" fill="#cccccc"/>
<rect x="439.12" y="441.03" width="37.95" height="10.85" fill="#cccccc"/>
<rect x="477.98" y="441.03" width="37.95" height="10.85" fill="#cccccc"/>
<rect x="516.84" y="441.03" width="37.95" height="10.85" fill="#cccccc"/>
<rect x="555.70" y="441.03" width="37.95" height="10.85" fill="#cccccc"/>
<rect x="594.56" y="441.03" width="37.95" height="10.85" fill="#ff7f00"/>
<rect x="633.42" y="441.03" width="37.95" height="10.85" fill="#cccccc"/>
<rect x="672.28" y="441.03" width="37.95" height="10.85" fill="#cccccc"/>
<rect x="711.14" y="441.03" width="37.95" height="10.85" fill="#cccccc"/>
<text x="751.00" y="450.63" font-size="13" fill="#111">13%</text>
<rect x="167.10" y="453.14" width="37.95" height="10.85" fill="#33a02c"/>
<rect x="205.96" y="453.14" width="37.95" height="10.85" fill="#cccccc"/>
<rect x="244.82" y="453.14" width="37.95" height="10.85" fill="#cccccc"/>
<rect x="283.68" y="453.14" width="37.95" height="10.85" fill="#cccccc"/>
<rect x="322.54" y="453.14" width="37.95" height="10.85" fill="#cccccc"/>
<rect x="361.40" y="453.14" width="37.95" height="10.85" fill="#cccccc"/>
<rect x="400.26" y="453.14" width="37.95" height="10.85" fill="#33a02c"/>
<rect x="439.12" y="453.14" width="37.95" height="10.85" fill="#cccccc"/>
<rect x="477.98" y="453.14" width="37.95" height="10.85" fill="#cccccc"/>
<rect x="516.84" y="453.14" width="37.95" height="10.85" fill="#cccccc"/>
<rect x="555.70" y="453.14" width="37.95" height="10.85" fill="#cccccc"/>
<rect x="594.56" y="453.14" width="37.95" height="10.85" fill="#cccccc"/>
<rect x="633.42" y="453.14" width="37.95" height="10.85" fill="#cccccc"/>
<rect x="672.28" y="453.14" width="37.95" height="10.85" fill="#cccccc"/>
<rect x="711.14" y="453.14" width="37.95" height="10.85" fill="#cccccc"/>
<text x="751.00" y="462.74" font-size="13" fill="#111">13%</text>
<rect x="167.10" y="465.24" width="37.95" height="10.85" fill="#cccccc"/>
<rect x="205.96" y="465.24" width="37.95" height="10.85" fill="#33a02c"/>
<rect x="244.82" y="465.24" width="37.95" height="10.85" fill="#cccccc"/>
<rect x="283.68" y="465.24" width="37.95" height="10.85" fill="#cccccc"/>
<rect x="322.54" y="465.24" width="37.95" height="10.85" fill="#cccccc"/>
<rect x="361.40" y="465.24" width="37.95" height="10.85" fill="#cccccc"/>
<rect x="400.26" y="465.24" width="37.95" height="10.85" fill="#cccccc"/>
<rect x="439.12" y="465.24" width="37.95" height="10.85" fill="#e31a1c"/>
<rect x="477.98" y="465.24" width="37.95" height="10.85" fill="#cccccc"/>
<rect x="516.84" y="465.24" width="37.95" height="10.85" fill="#cccccc"/>
<rect x="555.70" y="465.24" width="37.95" height="10.85" fill="#cccccc"/>
<rect x="594.56" y="465.24" width="37.95" height="10.85" fill="#cccccc"/>
<rect x="633.42" y="465.24" width="37.95" height="10.85" fill="#cccccc"/>
<rect x="672.28" y="465.24" width="37.95" height="10.85" fill="#cccccc"/>
<rect x="711.14" y="465.24" width="37.95" height="10.85" fill="#cccccc"/>
<text x="751.00" y="474.84" font-size="13" fill="#111">13%</text>
<rect x="167.10" y="477.35" width="37.95" height="10.85" fill="#cccccc"/>
<rect x="205.96" y="477.35" width="37.95" height="10.85" fill="#33a02c"/>
<rect x="244.82" y="477.35" width="37.95" height="10.85" fill="#cccccc"/>
<rect x="283.68" y="477.35" width="37.95" height="10.85" fill="#cccccc"/>
<rect x="322.54" y="477.35" width="37.95" height="10.85" fill="#ff7f00"/>
<rect x="361.40" y="477.35" width="37.95" height="10.85" fill="#cccccc"/>
<rect x="400.26" y="477.35" width="37.95" height="10.85" fill="#cccccc"/>
<rect x="439.12" y="477.35" width="37.95" height="10.85" fill="#cccccc"/>
<rect x="477.98" y="477.35" width="37.95" height="10.85" fill="#cccccc"/>
<rect x="516.84" y="477.35" width="37.95" height="10.85" fill="#cccccc"/>
<rect x="555.70" y="477.35" width="37.95" height="10.85" fill="#cccccc"/>
<rect x="594.56" y="477.35" width="37.95" height="10.85" fill="#cccccc"/>
<rect x="633.42" y="477.35" width="37.95" height="10.85" fill="#cccccc"/>
<rect x="672.28" y="477.35" width="37.95" height="10.85" fill="#cccccc"/>
<rect x="711.14" y="477.35" width="37.95" height="10.85" fill="#cccccc"/>
<text x="751.00" y="486.95" font-size="13" fill="#111">13%</text>
<rect x="167.10" y="489.45" width="37.95" height="10.85" fill="#33a02c"/>
<rect x="205.96" y="489.45" width="37.95" height="10.85" fill="#cccccc"/>
<rect x="244.82" y="489.45" width="37.95" height="10.85" fill="#cccccc"/>
<rect x="283.68" y="489.45" width="37.95" height="10.85" fill="#cccccc"/>
<rect x="322.54" y="489.45" width="37.95" height="10.85" fill="#1f78b4"/>
<rect x="361.40" y="489.45" width="37.95" height="10.85" fill="#cccccc"/>
<rect x="400.26" y="489.45" width="37.95" height="10.85" fill="#cccccc"/>
<rect x="439.12" y="489.45" width="37.95" height="10.85" fill="#cccccc"/>
<rect x="477.98" y="489.45" width="37.95" height="10.85" fill="#cccccc"/>
<rect x="516.84" y="489.45" width="37.95" height="10.85" fill="#cccccc"/>
<rect x="555.70" y="489.45" width="37.95" height="10.85" fill="#cccccc"/>
<rect x="594.56" y="489.45" width="37.95" height="10.85" fill="#cccccc"/>
<rect x="633.42" y="489.45" width="37.95" height="10.85" fill="#cccccc"/>
<rect x="672.28" y="489.45" width="37.95" height="10.85" fill="#cccccc"/>
<rect x="711.14" y="489.45" width="37.95" height="10.85" fill="#cccccc"/>
<text x="751.00" y="499.05" font-size="13" fill="#111">13%</text>
<rect x="167.10" y="501.55" width="37.95" height="10.85" fill="#cccccc"/>
<rect x="205.96" y="501.55" width="37.95" height="10.85" fill="#cccccc"/>
<rect x="244.82" y="501.55" width="37.95" height="10.85" fill="#cccccc"/>
<rect x="283.68" y="501.55" width="37.95" height="10.85" fill="#cccccc"/>
<rect x="322.54" y="501.55" width="37.95" height="10.85" fill="#cccccc"/>
<rect x="361.40" y="501.55" width="37.95" height="10.85" fill="#33a02c"/>
<rect x="400.26" y="501.55" width="37.95" height="10.85" fill="#33a02c"/>
<rect x="439.12" y="501.55" width="37.95" height="10.85" fill="#cccccc"/>
<rect x="477.98" y="501.55" width="37.95" height="10.85" fill="#cccccc"/>
<rect x="516.84" y="501.55" width="37.95" height="10.85" fill="#cccccc"/>
<rect x="555.70" y="501.55" width="37.95" height="10.85" fill="#cccccc"/>
<rect x="594.56" y="501.55" width="37.95" height="10.85" fill="#cccccc"/>
<rect x="633.42" y="501.55" width="37.95" height="10.85" fill="#cccccc"/>
<rect x="672.28" y="501.55" width="37.95" height="10.85" fill="#cccccc"/>
<rect x="711.14" y="501.55" width="37.95" height="10.85" fill="#cccccc"/>
<text x="751.00" y="511.15" font-size="13" fill="#111">13%</text>
<rect x="167.10" y="513.66" width="37.95" height="10.85" fill="#cccccc"/>
<rect x="205.96" y="513.66" width="37.95" height="10.85" fill="#cccccc"/>
<rect x="244.82" y="513.66" width="37.95" height="10.85" fill="#cccccc"/>
<rect x="283.68" y="513.66" width="37.95" height="10.85" fill="#cccccc"/>
<rect x="322.54" y="513.66" width="37.95" height="10.85" fill="#cccccc"/>
<rect x="361.40" y="513.66" width="37.95" height="10.85" fill="#cccccc"/>
<rect x="400.26" y="513.66" width="37.95" height="10.85" fill="#e31a1c"/>
<rect x="439.12" y="513.66" width="37.95" height="10.85" fill="#cccccc"/>
<rect x="477.98" y="513.66" width="37.95" height="10.85" fill="#cccccc"/>
<rect x="516.84" y="513.66" width="37.95" height="10.85" fill="#cccccc"/>
<rect x="555.70" y="513.66" width="37.95" height="10.85" fill="#cccccc"/>
<rect x="594.56" y="513.66" width="37.95" height="10.85" fill="#cccccc"/>
<rect x="633.42" y="513.66" width="37.95" height="10.85" fill="#33a02c"/>
<rect x="672.28" y="513.66" width="37.95" height="10.85" fill="#cccccc"/>
<rect x="711.14" y="513.66" width="37.95" height="10.85" fill="#cccccc"/>
<text x="751.00" y="523.26" font-size="13" fill="#111">13%</text>
<rect x="167.10" y="525.76" width="37.95" height="10.85" fill="#cccccc"/>
<rect x="205.96" y="525.76" width="37.95" height="10.85" fill="#cccccc"/>
<rect x="244.82" y="525.76" width="37.95" height="10.85" fill="#cccccc"/>
<rect x="283.68" y="525.76" width="37.95" height="10.85" fill="#cccccc"/>
<rect x="322.54" y="525.76" width="37.95" height="10.85" fill="#cccccc"/>
<rect x="361.40" y="525.76" width="37.95" height="10.85" fill="#cccccc"/>
<rect x="400.26" y="525.76" width="37.95" height="10.85" fill="#cccccc"/>
<rect x="439.12" y="525.76" width="37.95" height="10.85" fill="#33a02c"/>
<rect x="477.98" y="525.76" width="37.95" height="10.85" fill="#cccccc"/>
<rect x="516.84" y="525.76" width="37.95" height="10.85" fill="#33a02c"/>
<rect x="555.70" y="525.76" width="37.95" height="10.85" fill="#cccccc"/>
<rect x="594.56" y="525.76" width="37.95" height="10.85" fill="#cccccc"/>
<rect x="633.42" y="525.76" width="37.95" height="10.85" fill="#cccccc"/>
<rect x="672.28" y="525.76" width="37.95" height="10.85" fill="#cccccc"/>
<rect x="711.14" y="525.76" width="37.95" height="10.85" fill="#cccccc"/>
<text x="751.00" y="535.36" font-size="13" fill="#111">13%</text>
<rect x="167.10" y="537.87" width="37.95" height="10.85" fill="#cccccc"/>
<rect x="205.96" y="537.87" width="37.95" height="10.85" fill="#33a02c"/>
<rect x="244.82" y="537.87" width="37.95" height="10.85" fill="#cccccc"/>
<rect x="283.68" y="537.87" width="37.95" height="10.85" fill="#cccccc"/>
<rect x="322.54" y="537.87" width="37.95" height="10.85" fill="#cccccc"/>
<rect x="361.40" y="537.87" width="37.95" height="10.85" fill="#cccccc"/>
<rect x="400.26" y="537.87" width="37.95" height="10.85" fill="#cccccc"/>
<rect x="439.12" y="537.87" width="37.95" height="10.85" fill="#e31a1c"/>
<rect x="477.98" y="537.87" width="37.95" height="10.85" fill="#cccccc"/>
<rect x="516.84" y="537.87" width="37.95" height="10.85" fill="#cccccc"/>
<rect x="555.70" y="537.87" width="37.95" height="10.85" fill="#cccccc"/>
<rect x="594.56" y="537.87" width="37.95" height="10.85" fill="#cccccc"/>
<rect x="633.42" y="537.87" width="37.95" height="10.85" fill="#cccccc"/>
<rect x="672.28" y="537.87" width="37.95" height="10.85" fill="#cccccc"/>
<rect x="711.14" y="537.87" width="37.95" height="10.85" fill="#cccccc"/>
<text x="751.00" y="547.47" font-size="13" fill="#111">13%</text>
<rect x="167.10" y="549.97" width="37.95" height="10.85" fill="#cccccc"/>
<rect x="205.96" y="549.97" width="37.95" height="10.85" fill="#cccccc"/>
<rect x="244.82" y="549.97" width="37.95" height="10.85" fill="#cccccc"/>
<rect x="283.68" y="549.97" width="37.95" height="10.85" fill="#1f78b4"/>
<rect x="322.54" y="549.97" width="37.95" height="10.85" fill="#1f78b4"/>
<rect x="361.40" y="549.97" width="37.95" height="10.85" fill="#cccccc"/>
<rect x="400.26" y="549.97" width="37.95" height="10.85" fill="#cccccc"/>
<rect x="439.12" y="549.97" width="37.95" height="10.85" fill="#cccccc"/>
<rect x="477.98" y="549.97" width="37.95" height="10.85" fill="#cccccc"/>
<rect x="516.84" y="549.97" width="37.95" height="10.85" fill="#cccccc"/>
<rect x="555.70" y="549.97" width="37.95" height="10.85" fill="#cccccc"/>
<rect x="594.56" y="549.97" width="37.95" height="10.85" fill="#cccccc"/>
<rect x="633.42" y="549.97" width="37.95" height="10.85" fill="#cccccc"/>
<rect x="672.28" y="549.97" width="37.95" height="10.85" fill="#cccccc"/>
<rect x="711.14" y="549.97" width="37.95" height="10.85" fill="#cccccc"/>
<text x="751.00" y="559.57" font-size="13" fill="#111">13%</text>
<rect x="167.10" y="562.07" width="37.95" height="10.85" fill="#cccccc"/>
<rect x="205.96" y="562.07" width="37.95" height="10.85" fill="#33a02c"/>
<rect x="244.82" y="562.07" width="37.95" height="10.85" fill="#cccccc"/>
<rect x="283.68" y="562.07" width="37.95" height="10.85" fill="#cccccc"/>
<rect x="322.54" y="562.07" width="37.95" height="10.85" fill="#6a3d9a"/>
<rect x="361.40" y="562.07" width="37.95" height="10.85" fill="#cccccc"/>
<rect x="400.26" y="562.07" width="37.95" height="10.85" fill="#cccccc"/>
<rect x="439.12" y="562.07" width="37.95" height="10.85" fill="#cccccc"/>
<rect x="477.98" y="562.07" width="37.95" height="10.85" fill="#cccccc"/>
<rect x="516.84" y="562.07" width="37.95" height="10.85" fill="#cccccc"/>
<rect x="555.70" y="562.07" width="37.95" height="10.85" fill="#cccccc"/>
<rect x="594.56" y="562.07" width="37.95" height="10.85" fill="#cccccc"/>
<rect x="633.42" y="562.07" width="37.95" height="10.85" fill="#cccccc"/>
<rect x="672.28" y="562.07" width="37.95" height="10.85" fill="#cccccc"/>
<rect x="711.14" y="562.07" width="37.95" height="10.85" fill="#cccccc"/>
<text x="751.00" y="571.67" font-size="13" fill="#111">13%</text>
<rect x="167.10" y="574.18" width="37.95" height="10.85" fill="#cccccc"/>
<rect x="205.96" y="574.18" width="37.95" height="10.85" fill="#cccccc"/>
<rect x="244.82" y="574.18" width="37.95" height="10.85" fill="#cccccc"/>
<rect x="283.68" y="574.18" width="37.95" height="10.85" fill="#cccccc"/>
<rect x="322.54" y="574.18" width="37.95" height="10.85" fill="#cccccc"/>
<rect x="361.40" y="574.18" width="37.95" height="10.85" fill="#33a02c"/>
<rect x="400.26" y="574.18" width="37.95" height="10.85" fill="#cccccc"/>
<rect x="439.12" y="574.18" width="37.95" height="10.85" fill="#cccccc"/>
<rect x="477.98" y="574.18" width="37.95" height="10.85" fill="#ffff99"/>
<rect x="516.84" y="574.18" width="37.95" height="10.85" fill="#cccccc"/>
<rect x="555.70" y="574.18" width="37.95" height="10.85" fill="#cccccc"/>
<rect x="594.56" y="574.18" width="37.95" height="10.85" fill="#cccccc"/>
<rect x="633.42" y="574.18" width="37.95" height="10.85" fill="#cccccc"/>
<rect x="672.28" y="574.18" width="37.95" height="10.85" fill="#cccccc"/>
<rect x="711.14" y="574.18" width="37.95" height="10.85" fill="#cccccc"/>
<text x="751.00" y="583.78" font-size="13" fill="#111">13%</text>
<rect x="167.10" y="586.28" width="37.95" height="10.85" fill="#cccccc"/>
<rect x="205.96" y="586.28" width="37.95" height="10.85" fill="#cccccc"/>
<rect x="244.82" y="586.28" width="37.95" height="10.85" fill="#cccccc"/>
<rect x="283.68" y="586.28" width="37.95" height="10.85" fill="#cccccc"/>
<rect x="322.54" y="586.28" width="37.95" height="10.85" fill="#ff7f00"/>
<rect x="361.40" y="586.28" width="37.95" height="10.85" fill="#cccccc"/>
<rect x="400.26" y="586.28" width="37.95" height="10.85" fill="#ff7f00"/>
<rect x="439.12" y="586.28" width="37.95" height="10.85" fill="#cccccc"/>
<rect x="477.98" y="586.28" width="37.95" height="10.85" fill="#cccccc"/>
<rect x="516.84" y="586.28" width="37.95" height="10.85" fill="#cccccc"/>
<rect x="555.70" y="586.28" width="37.95" height="10.85" fill="#cccccc"/>
<rect x="594.56" y="586.28" width="37.95" height="10.85" fill="#cccccc"/>
<rect x="633.42" y="586.28" width="37.95" height="10.85" fill="#cccccc"/>
<rect x="672.28" y="586.28" width="37.95" height="10.85" fill="#cccccc"/>
<rect x="711.14" y="586.28" width="37.95" height="10.85" fill="#cccccc"/>
<text x="751.00" y="595.88" font-size="13" fill="#111">13%</text>
<rect x="167.10" y="598.39" width="37.95" height="10.85" fill="#cccccc"/>
<rect x="205.96" y="598.39" width="37.95" height="10.85" fill="#cccccc"/>
<rect x="244.82" y="598.39" width="37.95" height="10.85" fill="#cccccc"/>
<rect x="283.68" y="598.39" width="37.95" height="10.85" fill="#cccccc"/>
<rect x="322.54" y="598.39" width="37.95" height="10.85" fill="#6a3d9a"/>
<rect x="361.40" y="598.39" width="37.95" height="10.85" fill="#33a02c"/>
<rect x="400.26" y="598.39" width="37.95" height="10.85" fill="#cccccc"/>
<rect x="439.12" y="598.39" width="37.95" height="10.85" fill="#cccccc"/>
<rect x="477.98" y="598.39" width="37.95" height="10.85" fill="#cccccc"/>
<rect x="516.84" y="598.39" width="37.95" height="10.85" fill="#cccccc"/>
<rect x="555.70" y="598.39" width="37.95" height="10.85" fill="#cccccc"/>
<rect x="594.56" y="598.39" width="37.95" height="10.85" fill="#cccccc"/>
<rect x="633.42" y="598.39" width="37.95" height="10.85" fill="#cccccc"/>
<rect x="672.28" y="598.39" width="37.95" height="10.85" fill="#cccccc"/>
<rect x="711.14" y="598.39" width="37.95" height="10.85" fill="#cccccc"/>
<text x="751.00" y="607.99" font-size="13" fill="#111">13%</text>
<rect x="167.10" y="610.49" width="37.95" height="10.85" fill="#cccccc"/>
<rect x="205.96" y="610.49" width="37.95" height="10.85" fill="#cccccc"/>
<rect x="244.82" y="610.49" width="37.95" height="10.85" fill="#cccccc"/>
<rect x="283.68" y="610.49" width="37.95" height="10.85" fill="#33a02c"/>
<rect x="322.54" y="610.49" width="37.95" height="10.85" fill="#cccccc"/>
<rect x="361.40" y="610.49" width="37.95" height="10.85" fill="#cccccc"/>
<rect x="400.26" y="610.49" width="37.95" height="10.85" fill="#cccccc"/>
<rect x="439.12" y="610.49" width="37.95" height="10.85" fill="#33a02c"/>
<rect x="477.98" y="610.49" width="37.95" height="10.85" fill="#cccccc"/>
<rect x="516.84" y="610.49" width="37.95" height="10.85" fill="#cccccc"/>
<rect x="555.70" y="610.49" width="37.95" height="10.85" fill="#cccccc"/>
<rect x="594.56" y="610.49" width="37.95" height="10.85" fill="#cccccc"/>
<rect x="633.42" y="610.49" width="37.95" height="10.85" fill="#cccccc"/>
<rect x="672.28" y="610.49" width="37.95" height="10.85" fill="#cccccc"/>
<rect x="711.14" y="610.49" width="37.95" height="10.85" fill="#cccccc"/>
<text x="751.00" y="620.09" font-size="13" fill="#111">13%</text>
<rect x="167.10" y="622.59" width="37.95" height="10.85" fill="#cccccc"/>
<rect x="205.96" y="622.59" width="37.95" height="10.85" fill="#cccccc"/>
<rect x="244.82" y="622.59" width="37.95" height="10.85" fill="#cccccc"/>
<rect x="283.68" y="622.59" width="37.95" height="10.85" fill="#cccccc"/>
<rect x="322.54" y="622.59" width="37.95" height="10.85" fill="#cccccc"/>
<rect x="361.40" y="622.59" width="37.95" height="10.85" fill="#cccccc"/>
<rect x="400.26" y="622.59" width="37.95" height="10.85" fill="#e31a1c"/>
<rect x="439.12" y="622.59" width="37.95" height="10.85" fill="#cccccc"/>
<rect x="477.98" y="622.59" width="37.95" height="10.85" fill="#cccccc"/>
<rect x="516.84" y="622.59" width="37.95" height="10.85" fill="#cccccc"/>
<rect x="555.70" y="622.59" width="37.95" height="10.85" fill="#cccccc"/>
<rect x="594.56" y="622.59" width="37.95" height="10.85" fill="#cccccc"/>
<rect x="633.42" y="622.59" width="37.95" height="10.85" fill="#d53e4f"/>
<rect x="672.28" y="622.59" width="37.95" height="10.85" fill="#cccccc"/>
<rect x="711.14" y="622.59" width="37.95" height="10.85" fill="#cccccc"/>
<text x="751.00" y="632.19" font-size="13" fill="#111">13%</text>
<rect x="167.10" y="634.70" width="37.95" height="10.85" fill="#cccccc"/>
<rect x="205.96" y="634.70" width="37.95" height="10.85" fill="#cccccc"/>
<rect x="244.82" y="634.70" width="37.95" height="10.85" fill="#cccccc"/>
<rect x="283.68" y="634.70" width="37.95" height="10.85" fill="#cccccc"/>
<rect x="322.54" y="634.70" width="37.95" height="10.85" fill="#cccccc"/>
<rect x="361.40" y="634.70" width="37.95" height="10.85" fill="#cccccc"/>
<rect x="400.26" y="634.70" width="37.95" height="10.85" fill="#cccccc"/>
<rect x="439.12" y="634.70" width="37.95" height="10.85" fill="#ff7f00"/>
<rect x="477.98" y="634.70" width="37.95" height="10.85" fill="#e31a1c"/>
<rect x="516.84" y="634.70" width="37.95" height="10.85" fill="#cccccc"/>
<rect x="555.70" y="634.70" width="37.95" height="10.85" fill="#cccccc"/>
<rect x="594.56" y="634.70" width="37.95" height="10.85" fill="#cccccc"/>
<rect x="633.42" y="634.70" width="37.95" height="10.85" fill="#cccccc"/>
<rect x="672.28" y="634.70" width="37.95" height="10.85" fill="#cccccc"/>
<rect x="711.14" y="634.70" width="37.95" height="10.85" fill="#cccccc"/>
<text x="751.00" y="644.30" font-size="13" fill="#111">13%</text>
<rect x="167.10" y="646.80" width="37.95" height="10.85" fill="#cccccc"/>
<rect x="205.96" y="646.80" width="37.95" height="10.85" fill="#cccccc"/>
<rect x="244.82" y="646.80" width="37.95" height="10.85" fill="#cccccc"/>
<rect x="283.68" y="646.80" width="37.95" height="10.85" fill="#cccccc"/>
<rect x="322.54" y="646.80" width="37.95" height="10.85" fill="#cccccc"/>
<rect x="361.40" y="646.80" width="37.95" height="10.85" fill="#cccccc"/>
<rect x="400.26" y="646.80" width="37.95" height="10.85" fill="#ff7f00"/>
<rect x="439.12" y="646.80" width="37.95" height="10.85" fill="#33a02c"/>
<rect x="477.98" y="646.80" width="37.95" height="10.85" fill="#cccccc"/>
<rect x="516.84" y="646.80" width="37.95" height="10.85" fill="#cccccc"/>
<rect x="555.70" y="646.80" width="37.95" height="10.85" fill="#cccccc"/>
<rect x="594.56" y="646.80" width="37.95" height="10.85" fill="#cccccc"/>
<rect x="633.42" y="646.80" width="37.95" height="10.85" fill="#cccccc"/>
<rect x="672.28" y="646.80" width="37.95" height="10.85" fill="#cccccc"/>
<rect x="711.14" y="646.80" width="37.95" height="10.85" fill="#cccccc"/>
<text x="751.00" y="656.40" font-size="13" fill="#111">13%</text>
<rect x="167.10" y="658.91" width="37.95" height="10.85" fill="#cccccc"/>
<rect x="205.96" y="658.91" width="37.95" height="10.85" fill="#cccccc"/>
<rect x="244.82" y="658.91" width="37.95" height="10.85" fill="#cccccc"/>
<rect x="283.68" y="658.91" width="37.95" height="10.85" fill="#cccccc"/>
<rect x="322.54" y="658.91" width="37.95" height="10.85" fill="#cccccc"/>
<rect x="361.40" y="658.91" width="37.95" height="10.85" fill="#cccccc"/>
<rect x="400.26" y="658.91" width="37.95" height="10.85" fill="#33a02c"/>
<rect x="439.12" y="658.91" width="37.95" height="10.85" fill="#ff7f00"/>
<rect x="477.98" y="658.91" width="37.95" height="10.85" fill="#cccccc"/>
<rect x="516.84" y="658.91" width="37.95" height="10.85" fill="#cccccc"/>
<rect x="555.70" y="658.91" width="37.95" height="10.85" fill="#cccccc"/>
<rect x="594.56" y="658.91" width="37.95" height="10.85" fill="#cccccc"/>
<rect x="633.42" y="658.91" width="37.95" height="10.85" fill="#cccccc"/>
<rect x="672.28" y="658.91" width="37.95" height="10.85" fill="#cccccc"/>
<rect x="711.14" y="658.91" width="37.95" height="10.85" fill="#cccccc"/>
<text x="751.00" y="668.51" font-size="13" fill="#111">13%</text>
<rect x="167.10" y="671.01" width="37.95" height="10.85" fill="#cccccc"/>
<rect x="205.96" y="671.01" width="37.95" height="10.85" fill="#cccccc"/>
<rect x="244.82" y="671.01" width="37.95" height="10.85" fill="#cccccc"/>
<rect x="283.68" y="671.01" width="37.95" height="10.85" fill="#cccccc"/>
<rect x="322.54" y="671.01" width="37.95" height="10.85" fill="#33a02c"/>
<rect x="361.40" y="671.01" width="37.95" height="10.85" fill="#cccccc"/>
<rect x="400.26" y="671.01" width="37.95" height="10.85" fill="#cccccc"/>
<rect x="439.12" y="671.01" width="37.95" height="10.85" fill="#33a02c"/>
<rect x="477.98" y="671.01" width="37.95" height="10.85" fill="#cccccc"/>
<rect x="516.84" y="671.01" width="37.95" height="10.85" fill="#cccccc"/>
<rect x="555.70" y="671.01" width="37.95" height="10.85" fill="#cccccc"/>
<rect x="594.56" y="671.01" width="37.95" height="10.85" fill="#cccccc"/>
<rect x="633.42" y="671.01" width="37.95" height="10.85" fill="#cccccc"/>
<rect x="672.28" y="671.01" width="37.95" height="10.85" fill="#cccccc"/>
<rect x="711.14" y="671.01" width="37.95" height="10.85" fill="#cccccc"/>
<text x="751.00" y="680.61" font-size="13" fill="#111">13%</text>
<rect x="167.10" y="683.11" width="37.95" height="10.85" fill="#33a02c"/>
<rect x="205.96" y="683.11" width="37.95" height="10.85" fill="#cccccc"/>
<rect x="244.82" y="683.11" width="37.95" height="10.85" fill="#cccccc"/>
<rect x="283.68" y="683.11" width="37.95" height="10.85" fill="#cccccc"/>
<rect x="322.54" y="683.11" width="37.95" height="10.85" fill="#cccccc"/>
<rect x="361.40" y="683.11" width="37.95" height="10.85" fill="#cccccc"/>
<rect x="400.26" y="683.11" width="37.95" height="10.85" fill="#cccccc"/>
<rect x="439.12" y="683.11" width="37.95" height="10.85" fill="#cccccc"/>
<rect x="477.98" y="683.11" width="37.95" height="10.85" fill="#cccccc"/>
<rect x="516.84" y="683.11" width="37.95" height="10.85" fill="#ffff99"/>
<rect x="555.70" y="683.11" width="37.95" height="10.85" fill="#cccccc"/>
<rect x="594.56" y="683.11" width="37.95" height="10.85" fill="#cccccc"/>
<rect x="633.42" y="683.11" width="37.95" height="10.85" fill="#cccccc"/>
<rect x="672.28" y="683.11" width="37.95" height="10.85" fill="#cccccc"/>
<rect x="711.14" y="683.11" width="37.95" height="10.85" fill="#cccccc"/>
<text x="751.00" y="692.71" font-size="13" fill="#111">13%</text>
<rect x="167.10" y="695.22" width="37.95" height="10.85" fill="#cccccc"/>
<rect x="205.96" y="695.22" width="37.95" height="10.85" fill="#cccccc"/>
<rect x="244.82" y="695.22" width="37.95" height="10.85" fill="#cccccc"/>
<rect x="283.68" y="695.22" width="37.95" height="10.85" fill="#cccccc"/>
<rect x="322.54" y="695.22" width="37.95" height="10.85" fill="#cccccc"/>
<rect x="361.40" y="695.22" width="37.95" height="10.85" fill="#cccccc"/>
<rect x="400.26" y="695.22" width="37.95" height="10.85" fill="#6a3d9a"/>
<rect x="439.12" y="695.22" width="37.95" height="10.85" fill="#cccccc"/>
<rect x="477.98" y="695.22" width="37.95" height="10.85" fill="#cccccc"/>
<rect x="516.84" y="695.22" width="37.95" height="10.85" fill="#cccccc"/>
<rect x="555.70" y="695.22" width="37.95" height="10.85" fill="#cccccc"/>
<rect x="594.56" y="695.22" width="37.95" height="10.85" fill="#cccccc"/>
<rect x="633.42" y="695.22" width="37.95" height="10.85" fill="#cccccc"/>
<rect x="672.28" y="695.22" width="37.95" height="10.85" fill="#cccccc"/>
<rect x="711.14" y="695.22" width="37.95" height="10.85" fill="#33a02c"/>
<text x="751.00" y="704.82" font-size="13" fill="#111">13%</text>
<rect x="167.10" y="707.32" width="37.95" height="10.85" fill="#cccccc"/>
<rect x="205.96" y="707.32" width="37.95" height="10.85" fill="#cccccc"/>
<rect x="244.82" y="707.32" width="37.95" height="10.85" fill="#cccccc"/>
<rect x="283.68" y="707.32" width="37.95" height="10.85" fill="#cccccc"/>
<rect x="322.54" y="707.32" width="37.95" height="10.85" fill="#cccccc"/>
<rect x="361.40" y="707.32" width="37.95" height="10.85" fill="#cccccc"/>
<rect x="400.26" y="707.32" width="37.95" height="10.85" fill="#33a02c"/>
<rect x="439.12" y="707.32" width="37.95" height="10.85" fill="#cccccc"/>
<rect x="477.98" y="707.32" width="37.95" height="10.85" fill="#cccccc"/>
<rect x="516.84" y="707.32" width="37.95" height="10.85" fill="#ffff99"/>
<rect x="555.70" y="707.32" width="37.95" height="10.85" fill="#cccccc"/>
<rect x="594.56" y="707.32" width="37.95" height="10.85" fill="#cccccc"/>
<rect x="633.42" y="707.32" width="37.95" height="10.85" fill="#cccccc"/>
<rect x="672.28" y="707.32" width="37.95" height="10.85" fill="#cccccc"/>
<rect x="711.14" y="707.32" width="37.95" height="10.85" fill="#cccccc"/>
<text x="751.00" y="716.92" font-size="13" fill="#111">13%</text>
<rect x="167.10" y="719.43" width="37.95" height="10.85" fill="#cccccc"/>
<rect x="205.96" y="719.43" width="37.95" height="10.85" fill="#cccccc"/>
<rect x="244.82" y="719.43" width="37.95" height="10.85" fill="#cccccc"/>
<rect x="283.68" y="719.43" width="37.95" height="10.85" fill="#cccccc"/>
<rect x="322.54" y="719.43" width="37.95" height="10.85" fill="#cccccc"/>
<rect x="361.40" y="719.43" width="37.95" height="10.85" fill="#cccccc"/>
<rect x="400.26" y="719.43" width="37.95" height="10.85" fill="#1f78b4"/>
<rect x="439.12" y="719.43" width="37.95" height="10.85" fill="#cccccc"/>
<rect x="477.98" y="719.43" width="37.95" height="10.85" fill="#cccccc"/>
<rect x="516.84" y="719.43" width="37.95" height="10.85" fill="#cccccc"/>
<rect x="555.70" y="719.43" width="37.95" height="10.85" fill="#cccccc"/>
<rect x="594.56" y="719.43" width="37.95" height="10.85" fill="#cccccc"/>
<rect x="633.42" y="719.43" width="37.95" height="10.85" fill="#cccccc"/>
<rect x="672.28" y="719.43" width="37.95" height="10.85" fill="#33a02c"/>
<rect x="711.14" y="719.43" width="37.95" height="10.85" fill="#cccccc"/>
<text x="751.00" y="729.03" font-size="13" fill="#111">13%</text>
<rect x="167.10" y="731.53" width="37.95" height="10.85" fill="#cccccc"/>
<rect x="205.96" y="731.53" width="37.95" height="10.85" fill="#cccccc"/>
<rect x="244.82" y="731.53" width="37.95" height="10.85" fill="#cccccc"/>
<rect x="283.68" y="731.53" width="37.95" height="10.85" fill="#cccccc"/>
<rect x="322.54" y="731.53" width="37.95" height="10.85" fill="#cccccc"/>
<rect x="361.40" y="731.53" width="37.95" height="10.85" fill="#cccccc"/>
<rect x="400.26" y="731.53" width="37.95" height="10.85" fill="#1f78b4"/>
<rect x="439.12" y="731.53" width="37.95" height="10.85" fill="#cccccc"/>
<rect x="477.98" y="731.53" width="37.95" height="10.85" fill="#cccccc"/>
<rect x="516.84" y="731.53" width="37.95" height="10.85" fill="#cccccc"/>
<rect x="555.70" y="731.53" width="37.95" height="10.85" fill="#cccccc"/>
<rect x="594.56" y="731.53" width="37.95" height="10.85" fill="#cccccc"/>
<rect x="633.42" y="731.53" width="37.95" height="10.85" fill="#ffff99"/>
<rect x="672.28" y="731.53" width="37.95" height="10.85" fill="#cccccc"/>
<rect x="711.14" y="731.53" width="37.95" height="10.85" fill="#cccccc"/>
<text x="751.00" y="741.13" font-size="13" fill="#111">13%</text>
<rect x="167.10" y="743.63" width="37.95" height="10.85" fill="#cccccc"/>
<rect x="205.96" y="743.63" width="37.95" height="10.85" fill="#cccccc"/>
<rect x="244.82" y="743.63" width="37.95" height="10.85" fill="#ff7f00"/>
<rect x="283.68" y="743.63" width="37.95" height="10.85" fill="#cccccc"/>
<rect x="322.54" y="743.63" width="37.95" height="10.85" fill="#ff7f00"/>
<rect x="361.40" y="743.63" width="37.95" height="10.85" fill="#cccccc"/>
<rect x="400.26" y="743.63" width="37.95" height="10.85" fill="#cccccc"/>
<rect x="439.12" y="743.63" width="37.95" height="10.85" fill="#cccccc"/>
<rect x="477.98" y="743.63" width="37.95" height="10.85" fill="#cccccc"/>
<rect x="516.84" y="743.63" width="37.95" height="10.85" fill="#cccccc"/>
<rect x="555.70" y="743.63" width="37.95" height="10.85" fill="#cccccc"/>
<rect x="594.56" y="743.63" width="37.95" height="10.85" fill="#cccccc"/>
<rect x="633.42" y="743.63" width="37.95" height="10.85" fill="#cccccc"/>
<rect x="672.28" y="743.63" width="37.95" height="10.85" fill="#cccccc"/>
<rect x="711.14" y="743.63" width="37.95" height="10.85" fill="#cccccc"/>
<text x="751.00" y="753.23" font-size="13" fill="#111">13%</text>
<rect x="167.10" y="755.74" width="37.95" height="10.85" fill="#cccccc"/>
<rect x="205.96" y="755.74" width="37.95" height="10.85" fill="#cccccc"/>
<rect x="244.82" y="755.74" width="37.95" height="10.85" fill="#cccccc"/>
<rect x="283.68" y="755.74" width="37.95" height="10.85" fill="#cccccc"/>
<rect x="322.54" y="755.74" width="37.95" height="10.85" fill="#cccccc"/>
<rect x="361.40" y="755.74" width="37.95" height="10.85" fill="#cccccc"/>
<rect x="400.26" y="755.74" width="37.95" height="10.85" fill="#cccccc"/>
<rect x="439.12" y="755.74" width="37.95" height="10.85" fill="#cccccc"/>
<rect x="477.98" y="755.74" width="37.95" height="10.85" fill="#cccccc"/>
<rect x="516.84" y="755.74" width="37.95" height="10.85" fill="#6a3d9a"/>
<rect x="555.70" y="755.74" width="37.95" height="10.85" fill="#cccccc"/>
<rect x="594.56" y="755.74" width="37.95" height="10.85" fill="#6a3d9a"/>
<rect x="633.42" y="755.74" width="37.95" height="10.85" fill="#cccccc"/>
<rect x="672.28" y="755.74" width="37.95" height="10.85" fill="#cccccc"/>
<rect x="711.14" y="755.74" width="37.95" height="10.85" fill="#cccccc"/>
<text x="751.00" y="765.34" font-size="13" fill="#111">13%</text>
<rect x="167.10" y="767.84" width="37.95" height="10.85" fill="#cccccc"/>
<rect x="205.96" y="767.84" width="37.95" height="10.85" fill="#cccccc"/>
<rect x="244.82" y="767.84" width="37.95" height="10.85" fill="#cccccc"/>
<rect x="283.68" y="767.84" width="37.95" height="10.85" fill="#ff7f00"/>
<rect x="322.54" y="767.84" width="37.95" height="10.85" fill="#33a02c"/>
<rect x="361.40" y="767.84" width="37.95" height="10.85" fill="#cccccc"/>
<rect x="400.26" y="767.84" width="37.95" height="10.85" fill="#cccccc"/>
<rect x="439.12" y="767.84" width="37.95" height="10.85" fill="#cccccc"/>
<rect x="477.98" y="767.84" width="37.95" height="10.85" fill="#cccccc"/>
<rect x="516.84" y="767.84" width="37.95" height="10.85" fill="#cccccc"/>
<rect x="555.70" y="767.84" width="37.95" height="10.85" fill="#cccccc"/>
<rect x="594.56" y="767.84" width="37.95" height="10.85" fill="#cccccc"/>
<rect x="633.42" y="767.84" width="37.95" height="10.85" fill="#cccccc"/>
<rect x="672.28" y="767.84" width="37.95" height="10.85" fill="#cccccc"/>
<rect x="711.14" y="767.84" width="37.95" height="10.85" fill="#cccccc"/>
<text x="751.00" y="777.44" font-size="13" fill="#111">13%</text>
<rect x="167.10" y="779.95" width="37.95" height="10.85" fill="#cccccc"/>
<rect x="205.96" y="779.95" width="37.95" height="10.85" fill="#cccccc"/>
<rect x="244.82" y="779.95" width="37.95" height="10.85" fill="#cccccc"/>
<rect x="283.68" y="779.95" width="37.95" height="10.85" fill="#cccccc"/>
<rect x="322.54" y="779.95" width="37.95" height="10.85" fill="#33a02c"/>
<rect x="361.40" y="779.95" width="37.95" height="10.85" fill="#cccccc"/>
<rect x="400.26" y="779.95" width="37.95" height="10.85" fill="#1f78b4"/>
<rect x="439.12" y="779.95" width="37.95" height="10.85" fill="#cccccc"/>
<rect x="477.98" y="779.95" width="37.95" height="10.85" fill="#cccccc"/>
<rect x="516.84" y="779.95" width="37.95" height="10.85" fill="#cccccc"/>
<rect x="555.70" y="779.95" width="37.95" height="10.85" fill="#cccccc"/>
<rect x="594.56" y="779.95" width="37.95" height="10.85" fill="#cccccc"/>
<rect x="633.42" y="779.95" width="37.95" height="10.85" fill="#cccccc"/>
<rect x="672.28" y="779.95" width="37.95" height="10.85" fill="#cccccc"/>
<rect x="711.14" y="779.95" width="37.95" height="10.85" fill="#cccccc"/>
<text x="751.00" y="789.55" font-size="13" fill="#111">13%</text>
<rect x="167.10" y="792.05" width="37.95" height="10.85" fill="#cccccc"/>
<rect x="205.96" y="792.05" width="37.95" height="10.85" fill="#cccccc"/>
<rect x="244.82" y="792.05" width="37.95" height="10.85" fill="#cccccc"/>
<rect x="283.68" y="792.05" width="37.95" height="10.85" fill="#cccccc"/>
<rect x="322.54" y="792.05" width="37.95" height="10.85" fill="#cccccc"/>
<rect x="361.40" y="792.05" width="37.95" height="10.85" fill="#33a02c"/>
<rect x="400.26" y="792.05" width="37.95" height="10.85" fill="#cccccc"/>
<rect x="439.12" y="792.05" width="37.95" height="10.85" fill="#33a02c"/>
<rect x="477.98" y="792.05" width="37.95" height="10.85" fill="#cccccc"/>
<rect x="516.84" y="792.05" width="37.95" height="10.85" fill="#cccccc"/>
<rect x="555.70" y="792.05" width="37.95" height="10.85" fill="#cccccc"/>
<rect x="594.56" y="792.05" width="37.95" height="10.85" fill="#cccccc"/>
<rect x="633.42" y="792.05" width="37.95" height="10.85" fill="#cccccc"/>
<rect x="672.28" y="792.05" width="37.95" height="10.85" fill="#cccccc"/>
<rect x="711.14" y="792.05" width="37.95" height="10.85" fill="#cccccc"/>
<text x="751.00" y="801.65" font-size="13" fill="#111">13%</text>
<g transform="translate(160.7,0) scale(1.07,1)">
<text x="0.00" y="196.65" font-size="12" text-anchor="end" font-style="italic" fill="#111">TP53</text>
<text x="0.00" y="208.75" font-size="12" text-anchor="end" font-style="italic" fill="#111">SNX27</text>
<text x="0.00" y="220.86" font-size="12" text-anchor="end" font-style="italic" fill="#111">PCDHB14</text>
<text x="0.00" y="232.96" font-size="12" text-anchor="end" font-style="italic" fill="#111">RB1</text>
<text x="0.00" y="245.07" font-size="12" text-anchor="end" font-style="italic" fill="#111">SRPK1</text>
<text x="0.00" y="257.17" font-size="12" text-anchor="end" font-style="italic" fill="#111">ZNF107</text>
<text x="0.00" y="269.27" font-size="12" text-anchor="end" font-style="italic" fill="#111">APP</text>
<text x="0.00" y="281.38" font-size="12" text-anchor="end" font-style="italic" fill="#111">COQ6</text>
<text x="0.00" y="293.48" font-size="12" text-anchor="end" font-style="italic" fill="#111">EIF5AL1</text>
<text x="0.00" y="305.59" font-size="12" text-anchor="end" font-style="italic" fill="#111">FBRS</text>
<text x="0.00" y="317.69" font-size="12" text-anchor="end" font-style="italic" fill="#111">HOXC12</text>
<text x="0.00" y="329.79" font-size="12" text-anchor="end" font-style="italic" fill="#111">OR10AG1</text>
<text x="0.00" y="341.90" font-size="12" text-anchor="end" font-style="italic" fill="#111">RPL14</text>
<text x="0.00" y="354.00" font-size="12" text-anchor="end" font-style="italic" fill="#111">SLC43A2</text>
<text x="0.00" y="366.11" font-size="12" text-anchor="end" font-style="italic" fill="#111">SLFN5</text>
<text x="0.00" y="378.21" font-size="12" text-anchor="end" font-style="italic" fill="#111">SNRPC</text>
<text x="0.00" y="390.31" font-size="12" text-anchor="end" font-style="italic" fill="#111">TGFB3</text>
<text x="0.00" y="402.42" font-size="12" text-anchor="end" font-style="italic" fill="#111">UROD</text>
<text x="0.00" y="414.52" font-size="12" text-anchor="end" font-style="italic" fill="#111">ARFIP2</text>
<text x="0.00" y="426.63" font-size="12" text-anchor="end" font-style="italic" fill="#111">ARHGDIA</text>
<text x="0.00" y="438.73" font-size="12" text-anchor="end" font-style="italic" fill="#111">B3GNT1</text>
<text x="0.00" y="450.83" font-size="12" text-anchor="end" font-style="italic" fill="#111">BEST1</text>
<text x="0.00" y="462.94" font-size="12" text-anchor="end" font-style="italic" fill="#111">BLID</text>
<text x="0.00" y="475.04" font-size="12" text-anchor="end" font-style="italic" fill="#111">BTC</text>
<text x="0.00" y="487.15" font-size="12" text-anchor="end" font-style="italic" fill="#111">C12orf66</text>
<text x="0.00" y="499.25" font-size="12" text-anchor="end" font-style="italic" fill="#111">C7orf57</text>
<text x="0.00" y="511.35" font-size="12" text-anchor="end" font-style="italic" fill="#111">CRYAA</text>
<text x="0.00" y="523.46" font-size="12" text-anchor="end" font-style="italic" fill="#111">CYP11A1</text>
<text x="0.00" y="535.56" font-size="12" text-anchor="end" font-style="italic" fill="#111">CYYR1</text>
<text x="0.00" y="547.67" font-size="12" text-anchor="end" font-style="italic" fill="#111">DMRTA1</text>
<text x="0.00" y="559.77" font-size="12" text-anchor="end" font-style="italic" fill="#111">DTNBP1</text>
<text x="0.00" y="571.87" font-size="12" text-anchor="end" font-style="italic" fill="#111">ERG</text>
<text x="0.00" y="583.98" font-size="12" text-anchor="end" font-style="italic" fill="#111">FAM154B</text>
<text x="0.00" y="596.08" font-size="12" text-anchor="end" font-style="italic" fill="#111">GIMAP6</text>
<text x="0.00" y="608.19" font-size="12" text-anchor="end" font-style="italic" fill="#111">GOPC</text>
<text x="0.00" y="620.29" font-size="12" text-anchor="end" font-style="italic" fill="#111">IL23A</text>
<text x="0.00" y="632.39" font-size="12" text-anchor="end" font-style="italic" fill="#111">KLHL11</text>
<text x="0.00" y="644.50" font-size="12" text-anchor="end" font-style="italic" fill="#111">MATK</text>
<text x="0.00" y="656.60" font-size="12" text-anchor="end" font-style="italic" fill="#111">MPZ</text>
<text x="0.00" y="668.71" font-size="12" text-anchor="end" font-style="italic" fill="#111">NR1H2</text>
<text x="0.00" y="680.81" font-size="12" text-anchor="end" font-style="italic" fill="#111">NT5C</text>
<text x="0.00" y="692.91" font-size="12" text-anchor="end" font-style="italic" fill="#111">NUDT12</text>
<text x="0.00" y="705.02" font-size="12" text-anchor="end" font-style="italic" fill="#111">OR1M1</text>
<text x="0.00" y="717.12" font-size="12" text-anchor="end" font-style="italic" fill="#111">PRDM12</text>
<text x="0.00" y="729.23" font-size="12" text-anchor="end" font-style="italic" fill="#111">PROK2</text>
<text x="0.00" y="741.33" font-size="12" text-anchor="end" font-style="italic" fill="#111">RILPL1</text>
<text x="0.00" y="753.43" font-size="12" text-anchor="end" font-style="italic" fill="#111">RPL23</text>
<text x="0.00" y="765.54" font-size="12" text-anchor="end" font-style="italic" fill="#111">SLAIN1</text>
<text x="0.00" y="777.64" font-size="12" text-anchor="end" font-style="italic" fill="#111">SRI</text>
<text x="0.00" y="789.75" font-size="12" text-anchor="end" font-style="italic" fill="#111">SUMO3</text>
<text x="0.00" y="801.85" font-size="12" text-anchor="end" font-style="italic" fill="#111">ZBTB49</text>
</g>
<line x1="671.4" y1="392" x2="671.4" y2="575" stroke="#555" stroke-width="0.8" stroke-dasharray="2 3" opacity="0.6"/>
<text transform="translate(76.60,439.00) rotate(-90)" x="0" y="0" font-size="21.5" text-anchor="middle" textLength="104.5" lengthAdjust="spacingAndGlyphs">Gene name</text>
<text transform="translate(792.80,453.50) rotate(90)" x="0" y="0" font-size="19" text-anchor="middle" textLength="171.5" lengthAdjust="spacingAndGlyphs">Mutation frequency</text>
<rect x="167.10" y="811.00" width="37.95" height="11.70" fill="#e41a1c"/>
<rect x="205.96" y="811.00" width="37.95" height="11.70" fill="#e41a1c"/>
<rect x="244.82" y="811.00" width="37.95" height="11.70" fill="#e41a1c"/>
<rect x="283.68" y="811.00" width="37.95" height="11.70" fill="#377eb8"/>
<rect x="322.54" y="811.00" width="37.95" height="11.70" fill="#e41a1c"/>
<rect x="361.40" y="811.00" width="37.95" height="11.70" fill="#377eb8"/>
<rect x="400.26" y="811.00" width="37.95" height="11.70" fill="#377eb8"/>
<rect x="439.12" y="811.00" width="37.95" height="11.70" fill="#377eb8"/>
<rect x="477.98" y="811.00" width="37.95" height="11.70" fill="#377eb8"/>
<rect x="516.84" y="811.00" width="37.95" height="11.70" fill="#377eb8"/>
<rect x="555.70" y="811.00" width="37.95" height="11.70" fill="#377eb8"/>
<rect x="594.56" y="811.00" width="37.95" height="11.70" fill="#377eb8"/>
<rect x="633.42" y="811.00" width="37.95" height="11.70" fill="#377eb8"/>
<rect x="672.28" y="811.00" width="37.95" height="11.70" fill="#377eb8"/>
<rect x="711.14" y="811.00" width="37.95" height="11.70" fill="#377eb8"/>
<text x="755.50" y="820.70" font-size="12.8" fill="#111">Gender</text>
<rect x="167.10" y="824.10" width="37.95" height="11.70" fill="#cdc0b0"/>
<rect x="205.96" y="824.10" width="37.95" height="11.70" fill="#cdc0b0"/>
<rect x="244.82" y="824.10" width="37.95" height="11.70" fill="#0000ff"/>
<rect x="283.68" y="824.10" width="37.95" height="11.70" fill="#7fff00"/>
<rect x="322.54" y="824.10" width="37.95" height="11.70" fill="#ffd39b"/>
<rect x="361.40" y="824.10" width="37.95" height="11.70" fill="#66cd00"/>
<rect x="400.26" y="824.10" width="37.95" height="11.70" fill="#a9a9a9"/>
<rect x="439.12" y="824.10" width="37.95" height="11.70" fill="#0000ff"/>
<rect x="477.98" y="824.10" width="37.95" height="11.70" fill="#ff7f24"/>
<rect x="516.84" y="824.10" width="37.95" height="11.70" fill="#fff8dc"/>
<rect x="555.70" y="824.10" width="37.95" height="11.70" fill="#ff7f24"/>
<rect x="594.56" y="824.10" width="37.95" height="11.70" fill="#ffd39b"/>
<rect x="633.42" y="824.10" width="37.95" height="11.70" fill="#0000cd"/>
<rect x="672.28" y="824.10" width="37.95" height="11.70" fill="#7ac5cd"/>
<rect x="711.14" y="824.10" width="37.95" height="11.70" fill="#0000cd"/>
<text x="755.50" y="833.50" font-size="12.8" fill="#111">Age</text>
<rect x="167.10" y="837.20" width="37.95" height="11.70" fill="#e41a1c"/>
<rect x="205.96" y="837.20" width="37.95" height="11.70" fill="#377eb8"/>
<rect x="244.82" y="837.20" width="37.95" height="11.70" fill="#e41a1c"/>
<rect x="283.68" y="837.20" width="37.95" height="11.70" fill="#e41a1c"/>
<rect x="322.54" y="837.20" width="37.95" height="11.70" fill="#377eb8"/>
<rect x="361.40" y="837.20" width="37.95" height="11.70" fill="#e41a1c"/>
<rect x="400.26" y="837.20" width="37.95" height="11.70" fill="#e41a1c"/>
<rect x="439.12" y="837.20" width="37.95" height="11.70" fill="#e41a1c"/>
<rect x="477.98" y="837.20" width="37.95" height="11.70" fill="#e41a1c"/>
<rect x="516.84" y="837.20" width="37.95" height="11.70" fill="#377eb8"/>
<rect x="555.70" y="837.20" width="37.95" height="11.70" fill="#377eb8"/>
<rect x="594.56" y="837.20" width="37.95" height="11.70" fill="#e41a1c"/>
<rect x="633.42" y="837.20" width="37.95" height="11.70" fill="#e41a1c"/>
<rect x="672.28" y="837.20" width="37.95" height="11.70" fill="#e41a1c"/>
<rect x="711.14" y="837.20" width="37.95" height="11.70" fill="#e41a1c"/>
<text x="755.50" y="846.70" font-size="12.8" fill="#111">Jaundice</text>
<rect x="167.10" y="850.30" width="37.95" height="11.70" fill="#e41a1c"/>
<rect x="205.96" y="850.30" width="37.95" height="11.70" fill="#377eb8"/>
<rect x="244.82" y="850.30" width="37.95" height="11.70" fill="#4daf4a"/>
<rect x="283.68" y="850.30" width="37.95" height="11.70" fill="#4daf4a"/>
<rect x="322.54" y="850.30" width="37.95" height="11.70" fill="#377eb8"/>
<rect x="361.40" y="850.30" width="37.95" height="11.70" fill="#4daf4a"/>
<rect x="400.26" y="850.30" width="37.95" height="11.70" fill="#4daf4a"/>
<rect x="439.12" y="850.30" width="37.95" height="11.70" fill="#984ea3"/>
<rect x="477.98" y="850.30" width="37.95" height="11.70" fill="#4daf4a"/>
<rect x="516.84" y="850.30" width="37.95" height="11.70" fill="#4daf4a"/>
<rect x="555.70" y="850.30" width="37.95" height="11.70" fill="#4daf4a"/>
<rect x="594.56" y="850.30" width="37.95" height="11.70" fill="#4daf4a"/>
<rect x="633.42" y="850.30" width="37.95" height="11.70" fill="#984ea3"/>
<rect x="672.28" y="850.30" width="37.95" height="11.70" fill="#ff7f00"/>
<rect x="711.14" y="850.30" width="37.95" height="11.70" fill="#e41a1c"/>
<text x="755.50" y="860.00" font-size="12.8" fill="#111">TNM.stage</text>
<text x="8.00" y="881.70" font-size="16.2" fill="#000">GB-NEC Sample ID</text>
<text x="184.00" y="881.70" font-size="16.5" text-anchor="middle" fill="#000">10</text>
<text x="220.00" y="881.70" font-size="16.5" text-anchor="middle" fill="#000">1</text>
<text x="261.00" y="881.70" font-size="16.5" text-anchor="middle" fill="#000">4</text>
<text x="297.00" y="881.70" font-size="16.5" text-anchor="middle" fill="#000">2</text>
<text x="338.50" y="881.70" font-size="16.5" text-anchor="middle" fill="#000">12</text>
<text x="379.00" y="881.70" font-size="16.5" text-anchor="middle" fill="#000">5</text>
<text x="416.00" y="881.70" font-size="16.5" text-anchor="middle" fill="#000">14</text>
<text x="457.00" y="881.70" font-size="16.5" text-anchor="middle" fill="#000">9</text>
<text x="493.00" y="881.70" font-size="16.5" text-anchor="middle" fill="#000">11</text>
<text x="534.00" y="881.70" font-size="16.5" text-anchor="middle" fill="#000">7</text>
<text x="575.00" y="881.70" font-size="16.5" text-anchor="middle" fill="#000">8</text>
<text x="616.00" y="881.70" font-size="16.5" text-anchor="middle" fill="#000">15</text>
<text x="653.00" y="881.70" font-size="16.5" text-anchor="middle" fill="#000">3</text>
<text x="694.00" y="881.70" font-size="16.5" text-anchor="middle" fill="#000">13</text>
<text x="730.00" y="881.70" font-size="16.5" text-anchor="middle" fill="#000">6</text>
<text x="120.00" y="916.00" font-size="20.25" fill="#000">Variant classification</text>
<rect x="0.00" y="938.80" width="7.90" height="7.90" fill="#33a02c"/>
<text x="20.50" y="948.10" font-size="15" fill="#000">Missense Mutations</text>
<rect x="185.30" y="938.80" width="7.70" height="7.90" fill="#ffff99"/>
<text x="203.50" y="948.10" font-size="15" fill="#000">In Frame Deletions</text>
<rect x="0.00" y="961.90" width="7.90" height="7.90" fill="#ff7f00"/>
<text x="20.50" y="971.20" font-size="15" fill="#000">Splice Site Mutations</text>
<rect x="185.30" y="961.90" width="7.70" height="7.90" fill="#d53e4f"/>
<text x="203.50" y="971.20" font-size="15" fill="#000">In Frame Insertions</text>
<rect x="0.00" y="985.00" width="7.90" height="7.90" fill="#e31a1c"/>
<text x="20.50" y="994.30" font-size="15" fill="#000">Nonsense Mutations</text>
<rect x="185.30" y="985.00" width="7.70" height="7.90" fill="#1f78b4"/>
<text x="203.50" y="994.30" font-size="15" fill="#000">Frame Shift Deletions</text>
<rect x="0.00" y="1008.10" width="7.90" height="7.90" fill="#6a3d9a"/>
<text x="20.50" y="1017.40" font-size="15" fill="#000">Frame Shift Insertions</text>
<rect x="185.30" y="1008.10" width="7.70" height="7.90" fill="#000000"/>
<text x="203.50" y="1017.40" font-size="15" fill="#000">Multiple mutations in one gene</text>
<text x="433.50" y="912.70" font-size="14.5" fill="#000">Gender</text>
<text x="516.20" y="912.70" font-size="14.5" fill="#000">Age</text>
<text x="653.80" y="912.70" font-size="14.5" fill="#000">Jaundice</text>
<text x="720.50" y="912.70" font-size="14.5" fill="#000">TNM.stage</text>
<rect x="445.00" y="929.30" width="5.40" height="5.40" fill="#e41a1c"/>
<text x="460.50" y="937.20" font-size="14.5" fill="#000">Male</text>
<rect x="445.00" y="948.30" width="5.40" height="5.40" fill="#377eb8"/>
<text x="460.50" y="956.20" font-size="14.5" fill="#000">Female</text>
<rect x="528.30" y="929.30" width="5.40" height="5.40" fill="#cdc0b0"/>
<text x="543.00" y="937.20" font-size="14.5" fill="#000">66</text>
<rect x="528.30" y="948.30" width="5.40" height="5.40" fill="#0000ff"/>
<text x="543.00" y="956.20" font-size="14.5" fill="#000">54</text>
<rect x="528.30" y="967.30" width="5.40" height="5.40" fill="#7fff00"/>
<text x="543.00" y="975.20" font-size="14.5" fill="#000">50</text>
<rect x="528.30" y="986.30" width="5.40" height="5.40" fill="#ffd39b"/>
<text x="543.00" y="994.20" font-size="14.5" fill="#000">59</text>
<rect x="571.70" y="929.30" width="5.40" height="5.40" fill="#66cd00"/>
<text x="586.50" y="937.20" font-size="14.5" fill="#000">82</text>
<rect x="571.70" y="948.30" width="5.40" height="5.40" fill="#a9a9a9"/>
<text x="586.50" y="956.20" font-size="14.5" fill="#000">60</text>
<rect x="571.70" y="967.30" width="5.40" height="5.40" fill="#ff7f24"/>
<text x="586.50" y="975.20" font-size="14.5" fill="#000">68</text>
<rect x="571.70" y="986.30" width="5.40" height="5.40" fill="#fff8dc"/>
<text x="586.50" y="994.20" font-size="14.5" fill="#000">72</text>
<rect x="615.00" y="929.30" width="5.40" height="5.40" fill="#0000cd"/>
<text x="630.00" y="937.20" font-size="14.5" fill="#000">65</text>
<rect x="615.00" y="948.30" width="5.40" height="5.40" fill="#7ac5cd"/>
<text x="630.00" y="956.20" font-size="14.5" fill="#000">64</text>
<rect x="669.30" y="929.30" width="5.40" height="5.40" fill="#e41a1c"/>
<text x="685.00" y="937.20" font-size="14.5" fill="#000">No</text>
<rect x="669.30" y="948.30" width="5.40" height="5.40" fill="#377eb8"/>
<text x="685.00" y="956.20" font-size="14.5" fill="#000">Yes</text>
<rect x="731.00" y="929.30" width="5.40" height="5.40" fill="#e41a1c"/>
<text x="748.00" y="937.20" font-size="14.5" fill="#000">1</text>
<rect x="731.00" y="948.30" width="5.40" height="5.40" fill="#377eb8"/>
<text x="748.00" y="956.20" font-size="14.5" fill="#000">3b</text>
<rect x="731.00" y="967.30" width="5.40" height="5.40" fill="#4daf4a"/>
<text x="748.00" y="975.20" font-size="14.5" fill="#000">4b</text>
<rect x="775.00" y="929.30" width="5.40" height="5.40" fill="#984ea3"/>
<text x="790.00" y="937.20" font-size="14.5" fill="#000">2</text>
<rect x="775.00" y="948.30" width="5.40" height="5.40" fill="#ff7f00"/>
<text x="790.00" y="956.20" font-size="14.5" fill="#000">3a</text>
<rect x="912.4" y="191.40" width="124.80" height="4.4" fill="#d4d4d4" stroke="#1a1a1a" stroke-width="0.9"/>
<text x="903.00" y="197.50" font-size="10.6" text-anchor="end" font-style="italic" fill="#222">TP53</text>
<rect x="912.4" y="203.51" width="228.00" height="4.4" fill="#d4d4d4" stroke="#1a1a1a" stroke-width="0.9"/>
<text x="903.00" y="209.61" font-size="10.6" text-anchor="end" font-style="italic" fill="#222">SNX27</text>
<rect x="912.4" y="215.62" width="41.70" height="4.4" fill="#d4d4d4" stroke="#1a1a1a" stroke-width="0.9"/>
<text x="903.00" y="221.72" font-size="10.6" text-anchor="end" font-style="italic" fill="#222">PCDHB14</text>
<rect x="912.4" y="227.73" width="95.40" height="4.4" fill="#d4d4d4" stroke="#1a1a1a" stroke-width="0.9"/>
<text x="903.00" y="233.83" font-size="10.6" text-anchor="end" font-style="italic" fill="#222">RB1</text>
<rect x="912.4" y="239.84" width="44.10" height="4.4" fill="#d4d4d4" stroke="#1a1a1a" stroke-width="0.9"/>
<text x="903.00" y="245.94" font-size="10.6" text-anchor="end" font-style="italic" fill="#222">SRPK1</text>
<rect x="912.4" y="251.95" width="58.50" height="4.4" fill="#d4d4d4" stroke="#1a1a1a" stroke-width="0.9"/>
<text x="903.00" y="258.05" font-size="10.6" text-anchor="end" font-style="italic" fill="#222">ZNF107</text>
<rect x="912.4" y="264.06" width="47.10" height="4.4" fill="#d4d4d4" stroke="#1a1a1a" stroke-width="0.9"/>
<text x="903.00" y="270.16" font-size="10.6" text-anchor="end" font-style="italic" fill="#222">APP</text>
<rect x="912.4" y="276.17" width="82.50" height="4.4" fill="#d4d4d4" stroke="#1a1a1a" stroke-width="0.9"/>
<text x="903.00" y="282.27" font-size="10.6" text-anchor="end" font-style="italic" fill="#222">COQ6</text>
<rect x="912.4" y="288.28" width="69.30" height="4.4" fill="#d4d4d4" stroke="#1a1a1a" stroke-width="0.9"/>
<text x="903.00" y="294.38" font-size="10.6" text-anchor="end" font-style="italic" fill="#222">EIF5AL1</text>
<rect x="912.4" y="300.39" width="54.00" height="4.4" fill="#d4d4d4" stroke="#1a1a1a" stroke-width="0.9"/>
<text x="903.00" y="306.49" font-size="10.6" text-anchor="end" font-style="italic" fill="#222">FBRS</text>
<rect x="912.4" y="312.50" width="43.20" height="4.4" fill="#d4d4d4" stroke="#1a1a1a" stroke-width="0.9"/>
<text x="903.00" y="318.60" font-size="10.6" text-anchor="end" font-style="italic" fill="#222">HOXC12</text>
<rect x="912.4" y="324.61" width="52.50" height="4.4" fill="#d4d4d4" stroke="#1a1a1a" stroke-width="0.9"/>
<text x="903.00" y="330.71" font-size="10.6" text-anchor="end" font-style="italic" fill="#222">OR10AG1</text>
<rect x="912.4" y="336.72" width="95.10" height="4.4" fill="#d4d4d4" stroke="#1a1a1a" stroke-width="0.9"/>
<text x="903.00" y="342.82" font-size="10.6" text-anchor="end" font-style="italic" fill="#222">RPL14</text>
<rect x="912.4" y="348.83" width="45.30" height="4.4" fill="#d4d4d4" stroke="#1a1a1a" stroke-width="0.9"/>
<text x="903.00" y="354.93" font-size="10.6" text-anchor="end" font-style="italic" fill="#222">SLC43A2</text>
<rect x="912.4" y="360.94" width="47.70" height="4.4" fill="#d4d4d4" stroke="#1a1a1a" stroke-width="0.9"/>
<text x="903.00" y="367.04" font-size="10.6" text-anchor="end" font-style="italic" fill="#222">SLFN5</text>
<rect x="912.4" y="373.05" width="65.40" height="4.4" fill="#d4d4d4" stroke="#1a1a1a" stroke-width="0.9"/>
<text x="903.00" y="379.15" font-size="10.6" text-anchor="end" font-style="italic" fill="#222">SNRPC</text>
<rect x="912.4" y="385.16" width="67.20" height="4.4" fill="#d4d4d4" stroke="#1a1a1a" stroke-width="0.9"/>
<text x="903.00" y="391.26" font-size="10.6" text-anchor="end" font-style="italic" fill="#222">TGFB3</text>
<rect x="912.4" y="397.27" width="52.50" height="4.4" fill="#d4d4d4" stroke="#1a1a1a" stroke-width="0.9"/>
<text x="903.00" y="403.37" font-size="10.6" text-anchor="end" font-style="italic" fill="#222">UROD</text>
<rect x="912.4" y="409.38" width="48.00" height="4.4" fill="#d4d4d4" stroke="#1a1a1a" stroke-width="0.9"/>
<text x="903.00" y="415.48" font-size="10.6" text-anchor="end" font-style="italic" fill="#222">ARFIP2</text>
<rect x="912.4" y="421.49" width="55.20" height="4.4" fill="#d4d4d4" stroke="#1a1a1a" stroke-width="0.9"/>
<text x="903.00" y="427.59" font-size="10.6" text-anchor="end" font-style="italic" fill="#222">ARHGDIA</text>
<rect x="912.4" y="433.60" width="48.00" height="4.4" fill="#d4d4d4" stroke="#1a1a1a" stroke-width="0.9"/>
<text x="903.00" y="439.70" font-size="10.6" text-anchor="end" font-style="italic" fill="#222">B3GNT1</text>
<rect x="912.4" y="445.71" width="53.40" height="4.4" fill="#d4d4d4" stroke="#1a1a1a" stroke-width="0.9"/>
<text x="903.00" y="451.81" font-size="10.6" text-anchor="end" font-style="italic" fill="#222">BEST1</text>
<rect x="912.4" y="457.82" width="50.10" height="4.4" fill="#d4d4d4" stroke="#1a1a1a" stroke-width="0.9"/>
<text x="903.00" y="463.92" font-size="10.6" text-anchor="end" font-style="italic" fill="#222">BLID</text>
<rect x="912.4" y="469.93" width="61.20" height="4.4" fill="#d4d4d4" stroke="#1a1a1a" stroke-width="0.9"/>
<text x="903.00" y="476.03" font-size="10.6" text-anchor="end" font-style="italic" fill="#222">BTC</text>
<rect x="912.4" y="482.04" width="41.70" height="4.4" fill="#d4d4d4" stroke="#1a1a1a" stroke-width="0.9"/>
<text x="903.00" y="488.14" font-size="10.6" text-anchor="end" font-style="italic" fill="#222">C12orf66</text>
<rect x="912.4" y="494.15" width="50.10" height="4.4" fill="#d4d4d4" stroke="#1a1a1a" stroke-width="0.9"/>
<text x="903.00" y="500.25" font-size="10.6" text-anchor="end" font-style="italic" fill="#222">C7orf57</text>
<rect x="912.4" y="506.26" width="40.80" height="4.4" fill="#d4d4d4" stroke="#1a1a1a" stroke-width="0.9"/>
<text x="903.00" y="512.36" font-size="10.6" text-anchor="end" font-style="italic" fill="#222">CRYAA</text>
<rect x="912.4" y="518.37" width="42.30" height="4.4" fill="#d4d4d4" stroke="#1a1a1a" stroke-width="0.9"/>
<text x="903.00" y="524.47" font-size="10.6" text-anchor="end" font-style="italic" fill="#222">CYP11A1</text>
<rect x="912.4" y="530.48" width="42.30" height="4.4" fill="#d4d4d4" stroke="#1a1a1a" stroke-width="0.9"/>
<text x="903.00" y="536.58" font-size="10.6" text-anchor="end" font-style="italic" fill="#222">CYYR1</text>
<rect x="912.4" y="542.59" width="44.70" height="4.4" fill="#d4d4d4" stroke="#1a1a1a" stroke-width="0.9"/>
<text x="903.00" y="548.69" font-size="10.6" text-anchor="end" font-style="italic" fill="#222">DMRTA1</text>
<rect x="912.4" y="554.70" width="77.10" height="4.4" fill="#d4d4d4" stroke="#1a1a1a" stroke-width="0.9"/>
<text x="903.00" y="560.80" font-size="10.6" text-anchor="end" font-style="italic" fill="#222">DTNBP1</text>
<rect x="912.4" y="566.81" width="42.30" height="4.4" fill="#d4d4d4" stroke="#1a1a1a" stroke-width="0.9"/>
<text x="903.00" y="572.91" font-size="10.6" text-anchor="end" font-style="italic" fill="#222">ERG</text>
<rect x="912.4" y="578.92" width="44.70" height="4.4" fill="#d4d4d4" stroke="#1a1a1a" stroke-width="0.9"/>
<text x="903.00" y="585.02" font-size="10.6" text-anchor="end" font-style="italic" fill="#222">FAM154B</text>
<rect x="912.4" y="591.03" width="69.60" height="4.4" fill="#d4d4d4" stroke="#1a1a1a" stroke-width="0.9"/>
<text x="903.00" y="597.13" font-size="10.6" text-anchor="end" font-style="italic" fill="#222">GIMAP6</text>
<rect x="912.4" y="603.14" width="52.50" height="4.4" fill="#d4d4d4" stroke="#1a1a1a" stroke-width="0.9"/>
<text x="903.00" y="609.24" font-size="10.6" text-anchor="end" font-style="italic" fill="#222">GOPC</text>
<rect x="912.4" y="615.25" width="42.30" height="4.4" fill="#d4d4d4" stroke="#1a1a1a" stroke-width="0.9"/>
<text x="903.00" y="621.35" font-size="10.6" text-anchor="end" font-style="italic" fill="#222">IL23A</text>
<rect x="912.4" y="627.36" width="45.30" height="4.4" fill="#d4d4d4" stroke="#1a1a1a" stroke-width="0.9"/>
<text x="903.00" y="633.46" font-size="10.6" text-anchor="end" font-style="italic" fill="#222">KLHL11</text>
<rect x="912.4" y="639.47" width="45.30" height="4.4" fill="#d4d4d4" stroke="#1a1a1a" stroke-width="0.9"/>
<text x="903.00" y="645.57" font-size="10.6" text-anchor="end" font-style="italic" fill="#222">MATK</text>
<rect x="912.4" y="651.58" width="47.10" height="4.4" fill="#d4d4d4" stroke="#1a1a1a" stroke-width="0.9"/>
<text x="903.00" y="657.68" font-size="10.6" text-anchor="end" font-style="italic" fill="#222">MPZ</text>
<rect x="912.4" y="663.69" width="40.80" height="4.4" fill="#d4d4d4" stroke="#1a1a1a" stroke-width="0.9"/>
<text x="903.00" y="669.79" font-size="10.6" text-anchor="end" font-style="italic" fill="#222">NR1H2</text>
<rect x="912.4" y="675.80" width="40.80" height="4.4" fill="#d4d4d4" stroke="#1a1a1a" stroke-width="0.9"/>
<text x="903.00" y="681.90" font-size="10.6" text-anchor="end" font-style="italic" fill="#222">NT5C</text>
<rect x="912.4" y="687.91" width="42.30" height="4.4" fill="#d4d4d4" stroke="#1a1a1a" stroke-width="0.9"/>
<text x="903.00" y="694.01" font-size="10.6" text-anchor="end" font-style="italic" fill="#222">NUDT12</text>
<rect x="912.4" y="700.02" width="55.20" height="4.4" fill="#d4d4d4" stroke="#1a1a1a" stroke-width="0.9"/>
<text x="903.00" y="706.12" font-size="10.6" text-anchor="end" font-style="italic" fill="#222">OR1M1</text>
<rect x="912.4" y="712.13" width="41.40" height="4.4" fill="#d4d4d4" stroke="#1a1a1a" stroke-width="0.9"/>
<text x="903.00" y="718.23" font-size="10.6" text-anchor="end" font-style="italic" fill="#222">PRDM12</text>
<rect x="912.4" y="724.24" width="68.40" height="4.4" fill="#d4d4d4" stroke="#1a1a1a" stroke-width="0.9"/>
<text x="903.00" y="730.34" font-size="10.6" text-anchor="end" font-style="italic" fill="#222">PROK2</text>
<rect x="912.4" y="736.35" width="42.30" height="4.4" fill="#d4d4d4" stroke="#1a1a1a" stroke-width="0.9"/>
<text x="903.00" y="742.45" font-size="10.6" text-anchor="end" font-style="italic" fill="#222">RILPL1</text>
<rect x="912.4" y="748.46" width="97.50" height="4.4" fill="#d4d4d4" stroke="#1a1a1a" stroke-width="0.9"/>
<text x="903.00" y="754.56" font-size="10.6" text-anchor="end" font-style="italic" fill="#222">RPL23</text>
<rect x="912.4" y="760.57" width="73.20" height="4.4" fill="#d4d4d4" stroke="#1a1a1a" stroke-width="0.9"/>
<text x="903.00" y="766.67" font-size="10.6" text-anchor="end" font-style="italic" fill="#222">SLAIN1</text>
<rect x="912.4" y="772.68" width="58.50" height="4.4" fill="#d4d4d4" stroke="#1a1a1a" stroke-width="0.9"/>
<text x="903.00" y="778.78" font-size="10.6" text-anchor="end" font-style="italic" fill="#222">SRI</text>
<rect x="912.4" y="784.79" width="71.70" height="4.4" fill="#d4d4d4" stroke="#1a1a1a" stroke-width="0.9"/>
<text x="903.00" y="790.89" font-size="10.6" text-anchor="end" font-style="italic" fill="#222">SUMO3</text>
<rect x="912.4" y="796.90" width="44.40" height="4.4" fill="#d4d4d4" stroke="#1a1a1a" stroke-width="0.9"/>
<text x="903.00" y="803.00" font-size="10.6" text-anchor="end" font-style="italic" fill="#222">ZBTB49</text>
<path d="M866.40 190.20L866.40 196.60M863.63 191.80L869.17 195.00M869.17 191.80L863.63 195.00M857.40 190.20L857.40 196.60M854.63 191.80L860.17 195.00M860.17 191.80L854.63 195.00M857.40 202.31L857.40 208.71M854.63 203.91L860.17 207.11M860.17 203.91L854.63 207.11M848.40 202.31L848.40 208.71M845.63 203.91L851.17 207.11M851.17 203.91L845.63 207.11M868.50 226.53L868.50 232.93M865.73 228.13L871.27 231.33M871.27 228.13L865.73 231.33M859.50 226.53L859.50 232.93M856.73 228.13L862.27 231.33M862.27 228.13L856.73 231.33M864.90 274.97L864.90 281.37M862.13 276.57L867.67 279.77M867.67 276.57L862.13 279.77M855.90 274.97L855.90 281.37M853.13 276.57L858.67 279.77M858.67 276.57L853.13 279.77M851.40 287.08L851.40 293.48M848.63 288.68L854.17 291.88M854.17 288.68L848.63 291.88M842.40 287.08L842.40 293.48M839.63 288.68L845.17 291.88M845.17 288.68L839.63 291.88M864.90 335.52L864.90 341.92M862.13 337.12L867.67 340.32M867.67 337.12L862.13 340.32M855.90 335.52L855.90 341.92M853.13 337.12L858.67 340.32M858.67 337.12L853.13 340.32M857.40 371.85L857.40 378.25M854.63 373.45L860.17 376.65M860.17 373.45L854.63 376.65M848.40 371.85L848.40 378.25M845.63 373.45L851.17 376.65M851.17 373.45L845.63 376.65M859.50 383.96L859.50 390.36M856.73 385.56L862.27 388.76M862.27 385.56L856.73 388.76M850.50 383.96L850.50 390.36M847.73 385.56L853.27 388.76M853.27 385.56L847.73 388.76M846.90 553.50L846.90 559.90M844.13 555.10L849.67 558.30M849.67 555.10L844.13 558.30M837.90 553.50L837.90 559.90M835.13 555.10L840.67 558.30M840.67 555.10L835.13 558.30M854.40 589.83L854.40 596.23M851.63 591.43L857.17 594.63M857.17 591.43L851.63 594.63M845.40 589.83L845.40 596.23M842.63 591.43L848.17 594.63M848.17 591.43L842.63 594.63M856.50 723.04L856.50 729.44M853.73 724.64L859.27 727.84M859.27 724.64L853.73 727.84M847.50 723.04L847.50 729.44M844.73 724.64L850.27 727.84M850.27 724.64L844.73 727.84M858.90 747.26L858.90 753.66M856.13 748.86L861.67 752.06M861.67 748.86L856.13 752.06M849.90 747.26L849.90 753.66M847.13 748.86L852.67 752.06M852.67 748.86L847.13 752.06M858.30 759.37L858.30 765.77M855.53 760.97L861.07 764.17M861.07 760.97L855.53 764.17M849.30 759.37L849.30 765.77M846.53 760.97L852.07 764.17M852.07 760.97L846.53 764.17M856.50 783.59L856.50 789.99M853.73 785.19L859.27 788.39M859.27 785.19L853.73 788.39M847.50 783.59L847.50 789.99M844.73 785.19L850.27 788.39M850.27 785.19L844.73 788.39" stroke="#111" stroke-width="1.3" fill="none"/>
<line x1="912.4" y1="188.4" x2="912.4" y2="805" stroke="#222" stroke-width="1"/>
<text x="912.20" y="824.40" font-size="12.2" text-anchor="middle" fill="#555">0</text>
<text x="974.30" y="824.40" font-size="12.2" text-anchor="middle" fill="#555">2</text>
<text x="1036.20" y="824.40" font-size="12.2" text-anchor="middle" fill="#555">4</text>
<text x="1098.30" y="824.40" font-size="12.2" text-anchor="middle" fill="#555">6</text>
<text x="1160.20" y="824.40" font-size="12.2" text-anchor="middle" fill="#555">8</text>
<text x="909.30" y="851.20" font-size="20.2" fill="#000">-log10(MutSigCV p-value)</text>
<path d="M30.2 1073.8V1097.2M30.4 1085.2C31.6 1082.9 33.8 1082.0 36.3 1082.0C40.2 1082.0 42.4 1085.0 42.4 1089.0C42.4 1093.2 40.0 1096.0 36.3 1096.0C33.8 1096.0 31.6 1095.0 30.4 1093.0" fill="none" stroke="#000" stroke-width="2.6"/>
<ellipse cx="204.4" cy="1257.0" rx="109.4" ry="54.6" transform="rotate(90.1 204.4 1257.0)" fill="#e892ac" fill-opacity="0.35"/>
<ellipse cx="204.4" cy="1257.0" rx="109.4" ry="54.6" transform="rotate(90.1 204.4 1257.0)" fill="none" stroke="#000" stroke-opacity="0.9" stroke-width="0.85"/>
<ellipse cx="222.2" cy="1290.2" rx="109.4" ry="54.6" transform="rotate(-18.1 222.2 1290.2)" fill="#f9c00f" fill-opacity="0.35"/>
<ellipse cx="222.2" cy="1290.2" rx="109.4" ry="54.6" transform="rotate(-18.1 222.2 1290.2)" fill="none" stroke="#000" stroke-opacity="0.9" stroke-width="0.85"/>
<ellipse cx="203.1" cy="1315.7" rx="109.4" ry="54.6" transform="rotate(54.6 203.1 1315.7)" fill="#20ccb5" fill-opacity="0.35"/>
<ellipse cx="203.1" cy="1315.7" rx="109.4" ry="54.6" transform="rotate(54.6 203.1 1315.7)" fill="none" stroke="#000" stroke-opacity="0.9" stroke-width="0.85"/>
<ellipse cx="169.7" cy="1305.0" rx="109.4" ry="54.6" transform="rotate(124.9 169.7 1305.0)" fill="#54b2e5" fill-opacity="0.35"/>
<ellipse cx="169.7" cy="1305.0" rx="109.4" ry="54.6" transform="rotate(124.9 169.7 1305.0)" fill="none" stroke="#000" stroke-opacity="0.9" stroke-width="0.85"/>
<ellipse cx="172.4" cy="1272.6" rx="109.4" ry="54.6" transform="rotate(16.8 172.4 1272.6)" fill="#ff121a" fill-opacity="0.35"/>
<ellipse cx="172.4" cy="1272.6" rx="109.4" ry="54.6" transform="rotate(16.8 172.4 1272.6)" fill="none" stroke="#000" stroke-opacity="0.9" stroke-width="0.85"/>
<text x="205.80" y="1185.60" font-size="10.8" text-anchor="middle" fill="#111">12</text>
<text x="92.00" y="1254.70" font-size="10.8" text-anchor="middle" fill="#111">6</text>
<text x="165.50" y="1224.80" font-size="10.8" text-anchor="middle" fill="#111">0</text>
<text x="215.20" y="1227.10" font-size="10.8" text-anchor="middle" fill="#111">0</text>
<text x="158.00" y="1236.50" font-size="10.8" text-anchor="middle" fill="#111">0</text>
<text x="195.30" y="1236.50" font-size="10.8" text-anchor="middle" fill="#111">0</text>
<text x="238.50" y="1243.90" font-size="10.8" text-anchor="middle" fill="#111">0</text>
<text x="252.50" y="1248.10" font-size="10.8" text-anchor="middle" fill="#111">0</text>
<text x="137.50" y="1250.50" font-size="10.8" text-anchor="middle" fill="#111">0</text>
<text x="170.10" y="1249.80" font-size="10.8" text-anchor="middle" fill="#111">0</text>
<text x="229.60" y="1259.80" font-size="10.8" text-anchor="middle" fill="#111">0</text>
<text x="296.40" y="1273.30" font-size="10.8" text-anchor="middle" fill="#111">15</text>
<text x="137.50" y="1273.80" font-size="10.8" text-anchor="middle" fill="#111">0</text>
<text x="252.50" y="1280.80" font-size="10.8" text-anchor="middle" fill="#111">0</text>
<text x="190.40" y="1294.80" font-size="10.8" text-anchor="middle" fill="#111">0</text>
<text x="117.20" y="1300.60" font-size="10.8" text-anchor="middle" fill="#111">0</text>
<text x="144.50" y="1306.00" font-size="10.8" text-anchor="middle" fill="#111">0</text>
<text x="267.20" y="1301.30" font-size="10.8" text-anchor="middle" fill="#111">0</text>
<text x="128.40" y="1312.30" font-size="10.8" text-anchor="middle" fill="#111">0</text>
<text x="241.50" y="1317.40" font-size="10.8" text-anchor="middle" fill="#111">1</text>
<text x="257.20" y="1322.80" font-size="10.8" text-anchor="middle" fill="#111">0</text>
<text x="132.80" y="1336.30" font-size="10.8" text-anchor="middle" fill="#111">0</text>
<text x="252.00" y="1339.10" font-size="10.8" text-anchor="middle" fill="#111">0</text>
<text x="159.90" y="1346.10" font-size="10.8" text-anchor="middle" fill="#111">0</text>
<text x="188.30" y="1348.00" font-size="10.8" text-anchor="middle" fill="#111">0</text>
<text x="225.00" y="1347.30" font-size="10.8" text-anchor="middle" fill="#111">0</text>
<text x="190.20" y="1364.30" font-size="10.8" text-anchor="middle" fill="#111">0</text>
<text x="208.90" y="1364.30" font-size="10.8" text-anchor="middle" fill="#111">1</text>
<text x="177.40" y="1369.90" font-size="10.8" text-anchor="middle" fill="#111">0</text>
<text x="121.10" y="1378.80" font-size="10.8" text-anchor="middle" fill="#111">24</text>
<text x="244.80" y="1382.80" font-size="10.8" text-anchor="middle" fill="#111">6</text>
<text x="161.00" y="1135.40" font-size="13.5" fill="#000">GB-NECs</text>
<text x="8.50" y="1227.30" font-size="13.5" fill="#000">SI-NETs</text>
<text x="335.20" y="1253.00" font-size="13.5" fill="#000">PanNETs</text>
<text x="289.00" y="1406.40" font-size="13.5" fill="#000">LCNECs</text>
<text x="28.00" y="1420.00" font-size="13.5" fill="#000">Colorectal NETs</text>
<path d="M484.4 1084.7C483.0 1083.8 481.6 1083.4 480.0 1083.4C476.0 1083.4 473.3 1086.5 473.3 1090.8C473.3 1095.1 476.0 1098.1 480.0 1098.1C481.6 1098.1 483.1 1097.7 484.4 1096.8" fill="none" stroke="#000" stroke-width="2.75"/>
<text x="513.00" y="1131.75" font-size="14.5" fill="#000">GB-NEC (73.33%; n=15)</text>
<text x="515.00" y="1355.90" font-size="14.4" fill="#000">GBC (59.09%; n=22)</text>
<text transform="translate(492.70,1232.25) rotate(-90)" x="0" y="0" font-size="14.5" text-anchor="middle" textLength="108.5" lengthAdjust="spacingAndGlyphs">Mutation number</text>
<path d="M513.4 1147.3H518.1V1208.3H513.4M513.4 1270H518.1V1331.5H513.4" stroke="#333" stroke-width="1" fill="none"/>
<text x="507.00" y="1149.80" font-size="7" text-anchor="middle" fill="#333">5</text>
<text x="507.00" y="1210.80" font-size="7" text-anchor="middle" fill="#333">1</text>
<text x="507.00" y="1272.50" font-size="7" text-anchor="middle" fill="#333">1</text>
<text x="507.00" y="1334.00" font-size="7" text-anchor="middle" fill="#333">5</text>
<rect x="542.00" y="1227.00" width="585.00" height="24.60" fill="#b3b3b3"/>
<rect x="550.00" y="1224.30" width="35.00" height="29.90" fill="#8da0cb"/>
<rect x="703.30" y="1224.30" width="263.70" height="29.90" fill="#66c2a5"/>
<rect x="1013.40" y="1224.30" width="58.20" height="29.90" fill="#fc8d62"/>
<path d="M589.25 1208.75V1227M680.75 1208.75V1227M695.75 1208.75V1227M741.4 1208.75V1224.3M773.6 1208.75V1224.3M779.8 1208.75V1224.3M785.6 1208.75V1224.3M806.2 1208.75V1224.3M899.3 1208.75V1224.3M908.2 1208.75V1224.3M1053 1208.75V1224.3M667.5 1251.6V1270.1M803.3 1254.2V1270.1M825.7 1254.2V1270.1M856 1254.2V1270.1M861 1254.2V1270.1M866.6 1254.2V1270.1M872.7 1254.2V1270.1M898 1254.2V1270.1M955.4 1254.2V1270.1M1004.4 1251.6V1270.1M1020.4 1254.2V1270.1M952.4 1254.2V1285.2" stroke="#c4c4c4" stroke-width="1" fill="none"/>
<circle cx="589.25" cy="1208.75" r="4.2" fill="#6a3d9a"/>
<circle cx="680.75" cy="1208.75" r="4.2" fill="#e31a1c"/>
<circle cx="695.75" cy="1208.75" r="4.2" fill="#e31a1c"/>
<circle cx="741.4" cy="1208.75" r="4.2" fill="#33a02c"/>
<circle cx="773.6" cy="1208.75" r="4.2" fill="#33a02c"/>
<circle cx="779.8" cy="1208.75" r="4.2" fill="#33a02c"/>
<circle cx="785.6" cy="1208.75" r="4.2" fill="#e31a1c"/>
<circle cx="806.2" cy="1208.75" r="4.2" fill="#33a02c"/>
<circle cx="899.3" cy="1208.75" r="4.2" fill="#33a02c"/>
<circle cx="908.2" cy="1208.75" r="4.2" fill="#33a02c"/>
<circle cx="1053" cy="1208.75" r="4.2" fill="#e31a1c"/>
<circle cx="952.4" cy="1285.2" r="4.2" fill="#33a02c"/>
<circle cx="667.5" cy="1270.1" r="4.2" fill="#1f78b4"/>
<circle cx="803.3" cy="1270.1" r="4.2" fill="#b15928"/>
<circle cx="825.7" cy="1270.1" r="4.2" fill="#e31a1c"/>
<circle cx="856" cy="1270.1" r="4.2" fill="#33a02c"/>
<circle cx="861" cy="1270.1" r="4.2" fill="#33a02c"/>
<circle cx="866.6" cy="1270.1" r="4.2" fill="#b15928"/>
<circle cx="872.7" cy="1270.1" r="4.2" fill="#33a02c"/>
<circle cx="898" cy="1270.1" r="4.2" fill="#33a02c"/>
<circle cx="955.4" cy="1270.1" r="4.2" fill="#33a02c"/>
<circle cx="1004.4" cy="1270.1" r="4.2" fill="#1f78b4"/>
<circle cx="1020.4" cy="1270.1" r="4.2" fill="#1f78b4"/>
<text x="567.30" y="1242.30" font-size="7.9" text-anchor="middle" font-style="italic" fill="#111">P53_TAD</text>
<text x="835.40" y="1242.00" font-size="7.9" text-anchor="middle" font-style="italic" fill="#111">P53</text>
<text x="1042.80" y="1242.30" font-size="7.9" text-anchor="middle" font-style="italic" fill="#111">P53_tetramer</text>
<text transform="translate(1144.60,1243.50) rotate(-90)" x="0" y="0" font-size="8.8" text-anchor="middle" textLength="23" lengthAdjust="spacingAndGlyphs">396 aa</text>
<text x="780.00" y="1184.90" font-size="14.2" fill="#000">p.His179Leu</text>
<text x="924.20" y="1191.40" font-size="14.2" fill="#000">p.Arg248Trp</text>
<text x="770.20" y="1303.40" font-size="14.2" fill="#000">p.Arg213Gln</text>
<text x="867.60" y="1303.40" font-size="14.35" fill="#000">p.Tyr220_Pro223del</text>
<path d="M806.6 1189.9V1201.2M919.3 1189.3L911.7 1201.2M852.7 1277L845.2 1289.4M869.4 1276.6L880.3 1289.4" stroke="#000" stroke-width="1.5" fill="none"/>
<circle cx="918" cy="1338.75" r="3.4" fill="#6a3d9a"/>
<text x="928.50" y="1343.05" font-size="13" fill="#111">Frame Shift Insertions</text>
<circle cx="1062.5" cy="1338.75" r="3.4" fill="#1f78b4"/>
<text x="1072.70" y="1343.05" font-size="13" fill="#111">Frame Shift Deletions</text>
<circle cx="918" cy="1352.2" r="3.4" fill="#e31a1c"/>
<text x="928.50" y="1356.50" font-size="13" fill="#111">Nonsense Mutations</text>
<circle cx="1062.5" cy="1352.2" r="3.4" fill="#b15928"/>
<text x="1072.70" y="1356.50" font-size="13" fill="#111">In Frame Deletions</text>
<circle cx="918" cy="1365.75" r="3.4" fill="#33a02c"/>
<text x="929.70" y="1370.05" font-size="13" fill="#111">Missense Mutations</text>
</svg>
</body></html>
